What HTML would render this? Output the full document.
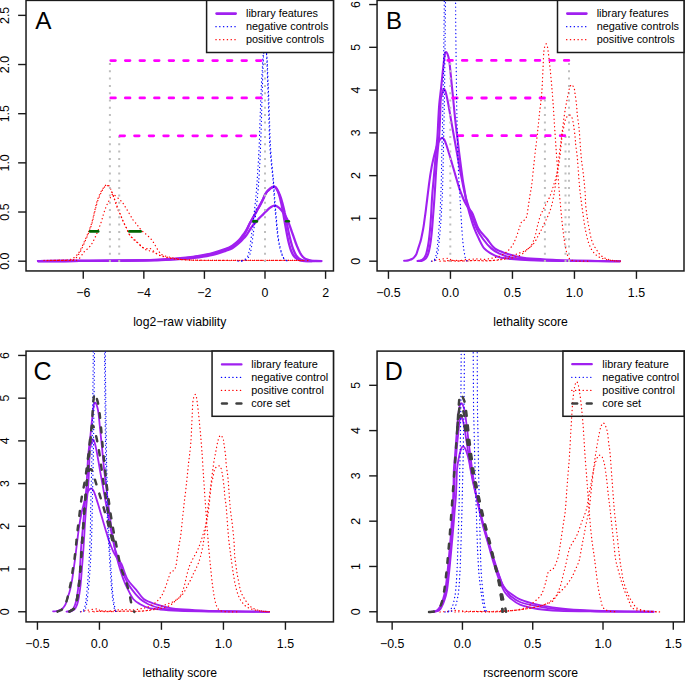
<!DOCTYPE html>
<html><head><meta charset="utf-8"><style>
html,body{margin:0;padding:0;background:#fff;}
svg{display:block;}
text{font-family:"Liberation Sans",sans-serif;fill:#000;}
</style></head><body>
<svg width="685" height="680" viewBox="0 0 685 680">
<rect width="685" height="680" fill="#fff"/>
<clipPath id="cA"><rect x="26.03" y="0.4" width="307.41999999999996" height="270.55"/></clipPath>
<rect x="26.03" y="0.4" width="307.41999999999996" height="270.55" fill="none" stroke="#1a1a1a" stroke-width="1.5"/>
<line x1="83.26" y1="270.95" x2="83.26" y2="278.85" stroke="#1a1a1a" stroke-width="1.4" stroke-linecap="butt"/>
<text x="83.26" y="297.30" font-size="12.4" text-anchor="middle">−6</text>
<line x1="143.84" y1="270.95" x2="143.84" y2="278.85" stroke="#1a1a1a" stroke-width="1.4" stroke-linecap="butt"/>
<text x="143.84" y="297.30" font-size="12.4" text-anchor="middle">−4</text>
<line x1="204.42" y1="270.95" x2="204.42" y2="278.85" stroke="#1a1a1a" stroke-width="1.4" stroke-linecap="butt"/>
<text x="204.42" y="297.30" font-size="12.4" text-anchor="middle">−2</text>
<line x1="265.00" y1="270.95" x2="265.00" y2="278.85" stroke="#1a1a1a" stroke-width="1.4" stroke-linecap="butt"/>
<text x="265.00" y="297.30" font-size="12.4" text-anchor="middle">0</text>
<line x1="325.58" y1="270.95" x2="325.58" y2="278.85" stroke="#1a1a1a" stroke-width="1.4" stroke-linecap="butt"/>
<text x="325.58" y="297.30" font-size="12.4" text-anchor="middle">2</text>
<line x1="18.13" y1="261.18" x2="26.03" y2="261.18" stroke="#1a1a1a" stroke-width="1.4" stroke-linecap="butt"/>
<text transform="translate(8.73 261.18) rotate(-90)" font-size="12.4" text-anchor="middle">0.0</text>
<line x1="18.13" y1="212.02" x2="26.03" y2="212.02" stroke="#1a1a1a" stroke-width="1.4" stroke-linecap="butt"/>
<text transform="translate(8.73 212.02) rotate(-90)" font-size="12.4" text-anchor="middle">0.5</text>
<line x1="18.13" y1="162.85" x2="26.03" y2="162.85" stroke="#1a1a1a" stroke-width="1.4" stroke-linecap="butt"/>
<text transform="translate(8.73 162.85) rotate(-90)" font-size="12.4" text-anchor="middle">1.0</text>
<line x1="18.13" y1="113.69" x2="26.03" y2="113.69" stroke="#1a1a1a" stroke-width="1.4" stroke-linecap="butt"/>
<text transform="translate(8.73 113.69) rotate(-90)" font-size="12.4" text-anchor="middle">1.5</text>
<line x1="18.13" y1="64.52" x2="26.03" y2="64.52" stroke="#1a1a1a" stroke-width="1.4" stroke-linecap="butt"/>
<text transform="translate(8.73 64.52) rotate(-90)" font-size="12.4" text-anchor="middle">2.0</text>
<line x1="18.13" y1="15.36" x2="26.03" y2="15.36" stroke="#1a1a1a" stroke-width="1.4" stroke-linecap="butt"/>
<text transform="translate(8.73 15.36) rotate(-90)" font-size="12.4" text-anchor="middle">2.5</text>
<text x="179.74" y="326.35" font-size="12.2" text-anchor="middle">log2−raw viability</text>
<text x="35.20" y="28.90" font-size="24.3">A</text>
<path d="M38.0 261.1 C45.0 261.1 66.3 261.0 80.0 260.9 C93.7 260.8 108.3 260.8 120.0 260.7 C131.7 260.6 141.7 260.5 150.0 260.3 C158.3 260.1 164.0 259.9 170.0 259.6 C176.0 259.3 181.2 259.0 186.0 258.6 C190.8 258.2 194.6 257.9 199.0 257.3 C203.4 256.7 208.2 256.0 212.6 254.9 C217.0 253.8 222.4 251.9 225.7 250.8 C229.0 249.7 230.1 249.5 232.3 248.2 C234.5 246.9 237.0 244.7 238.8 243.2 C240.6 241.7 241.9 240.1 243.0 239.0 C244.1 237.9 244.7 237.4 245.4 236.6 C246.1 235.8 246.6 235.1 247.3 234.0 C248.0 232.9 248.9 231.2 249.8 229.8 C250.7 228.4 251.8 226.6 252.8 225.4 C253.8 224.2 254.5 223.6 255.6 222.4 C256.6 221.2 257.8 219.7 259.1 218.3 C260.4 216.9 262.0 215.5 263.4 214.1 C264.8 212.7 266.3 211.0 267.6 209.8 C268.9 208.6 270.0 207.7 271.1 207.0 C272.2 206.3 273.2 205.7 274.3 205.6 C275.4 205.5 276.3 205.8 277.5 206.6 C278.7 207.4 280.2 208.7 281.5 210.3 C282.8 211.9 284.4 214.2 285.5 216.1 C286.6 218.0 287.4 219.5 288.3 221.8 C289.2 224.1 290.2 227.1 291.2 229.8 C292.1 232.5 293.1 235.1 294.0 237.8 C294.9 240.5 295.9 243.4 296.9 245.9 C297.9 248.4 299.0 250.8 300.0 252.7 C301.0 254.5 301.9 255.9 303.0 257.0 C304.1 258.1 305.2 258.8 306.5 259.4 C307.8 260.0 309.4 260.3 311.0 260.6 C312.6 260.9 314.2 260.9 316.0 261.0 C317.8 261.1 320.6 261.1 321.5 261.1" fill="none" stroke="#A020F0" stroke-width="2.3" stroke-linejoin="round" stroke-linecap="round" clip-path="url(#cA)"/>
<path d="M38.0 261.1 C45.0 261.1 66.3 261.0 80.0 260.9 C93.7 260.8 108.3 260.7 120.0 260.6 C131.7 260.5 141.7 260.4 150.0 260.2 C158.3 260.0 164.0 259.6 170.0 259.3 C176.0 259.0 181.2 258.6 186.0 258.1 C190.8 257.6 194.6 257.2 199.0 256.5 C203.4 255.8 208.2 255.0 212.6 253.9 C217.0 252.8 222.4 250.9 225.7 249.7 C229.0 248.5 230.1 248.1 232.3 246.8 C234.5 245.5 237.0 243.5 238.8 241.8 C240.6 240.1 241.9 238.0 243.0 236.5 C244.1 235.0 244.7 233.9 245.4 232.6 C246.2 231.3 246.8 229.9 247.5 228.5 C248.2 227.1 248.5 225.9 249.5 224.0 C250.5 222.1 252.2 219.2 253.5 216.9 C254.8 214.7 255.8 212.6 257.0 210.5 C258.2 208.4 259.4 206.2 260.5 204.2 C261.6 202.2 262.6 200.1 263.4 198.5 C264.2 196.9 264.4 195.8 265.1 194.6 C265.8 193.3 266.7 192.0 267.6 191.0 C268.5 190.0 269.6 189.1 270.4 188.4 C271.2 187.8 271.9 187.4 272.5 187.1 C273.1 186.8 273.6 186.3 274.3 186.6 C275.1 186.9 276.1 187.6 277.0 189.0 C277.9 190.4 278.9 192.7 279.8 195.0 C280.7 197.3 281.6 200.0 282.4 203.0 C283.2 206.0 284.1 209.6 284.8 213.0 C285.6 216.4 286.2 220.1 286.9 223.5 C287.6 226.9 288.2 230.4 288.9 233.5 C289.6 236.6 290.3 239.3 291.0 242.0 C291.7 244.7 292.5 247.4 293.3 249.5 C294.1 251.6 294.9 253.3 295.8 254.8 C296.7 256.3 297.7 257.4 298.8 258.3 C299.9 259.2 301.1 259.9 302.5 260.3 C303.9 260.8 305.4 260.9 307.5 261.0 C309.6 261.1 313.8 261.1 315.0 261.1" fill="none" stroke="#A020F0" stroke-width="2.3" stroke-linejoin="round" stroke-linecap="round" clip-path="url(#cA)"/>
<path d="M38.0 261.1 C45.0 261.1 66.3 261.0 80.0 260.9 C93.7 260.8 108.3 260.7 120.0 260.6 C131.7 260.5 141.7 260.4 150.0 260.1 C158.3 259.9 164.0 259.5 170.0 259.1 C176.0 258.7 181.2 258.2 186.0 257.7 C190.8 257.2 194.6 256.7 199.0 255.9 C203.4 255.1 208.2 254.2 212.6 253.0 C217.0 251.8 222.4 250.0 225.7 248.8 C229.0 247.6 230.1 247.0 232.3 245.6 C234.5 244.2 237.0 242.1 238.8 240.3 C240.6 238.5 241.9 236.4 243.0 235.0 C244.1 233.6 244.7 232.8 245.4 231.6 C246.2 230.4 246.8 229.3 247.5 228.0 C248.2 226.7 248.5 225.8 249.5 224.0 C250.5 222.2 252.2 219.2 253.5 216.9 C254.8 214.7 255.8 212.6 257.0 210.5 C258.2 208.4 259.4 206.2 260.5 204.2 C261.6 202.2 262.6 200.1 263.4 198.5 C264.2 196.9 264.4 195.8 265.1 194.6 C265.8 193.3 266.7 192.0 267.6 191.0 C268.5 190.0 269.6 189.1 270.4 188.4 C271.2 187.8 271.9 187.4 272.5 187.1 C273.1 186.8 273.7 186.4 274.3 186.6 C274.9 186.8 275.5 187.0 276.3 188.3 C277.1 189.6 278.2 192.1 279.0 194.5 C279.8 196.9 280.5 199.9 281.2 203.0 C281.9 206.1 282.6 209.6 283.2 213.0 C283.8 216.4 284.4 220.1 285.0 223.5 C285.6 226.9 286.2 230.2 286.8 233.5 C287.4 236.8 288.1 240.2 288.8 243.0 C289.5 245.8 290.2 248.4 291.0 250.5 C291.8 252.6 292.6 254.2 293.5 255.5 C294.4 256.8 295.4 257.7 296.5 258.5 C297.6 259.3 298.6 259.9 300.0 260.3 C301.4 260.7 303.0 260.9 305.0 261.0 C307.0 261.1 310.8 261.1 312.0 261.1" fill="none" stroke="#A020F0" stroke-width="2.3" stroke-linejoin="round" stroke-linecap="round" clip-path="url(#cA)"/>
<path d="M44.0 260.4 C45.8 260.4 51.5 260.4 55.0 260.3 C58.5 260.2 62.5 260.2 65.0 260.1 C67.5 260.0 68.6 259.9 70.0 259.6 C71.4 259.3 72.1 258.9 73.2 258.2 C74.3 257.5 75.4 256.7 76.5 255.5 C77.6 254.3 78.5 253.5 79.8 251.1 C81.1 248.7 83.0 244.4 84.5 241.2 C86.0 238.0 87.3 235.0 88.5 231.9 C89.7 228.8 90.8 226.1 91.8 222.6 C92.8 219.1 93.8 214.2 94.7 210.7 C95.6 207.2 96.2 204.2 97.0 201.5 C97.8 198.8 98.8 196.4 99.7 194.3 C100.6 192.2 101.6 190.6 102.5 189.2 C103.4 187.8 104.2 186.5 105.0 185.8 C105.8 185.1 106.6 184.7 107.3 184.8 C108.0 184.9 108.6 185.2 109.3 186.2 C110.0 187.1 110.6 188.8 111.3 190.5 C112.0 192.2 112.9 194.7 113.5 196.5 C114.1 198.3 114.3 199.2 115.0 201.3 C115.7 203.4 116.6 206.5 117.5 208.8 C118.4 211.1 119.7 212.9 120.6 215.0 C121.5 217.1 122.1 219.2 123.1 221.3 C124.0 223.4 125.3 225.5 126.3 227.5 C127.2 229.5 127.9 231.7 128.8 233.4 C129.7 235.1 130.9 236.4 131.9 237.5 C132.9 238.6 134.1 239.2 135.0 240.0 C135.9 240.8 136.2 241.3 137.5 242.5 C138.8 243.7 141.0 246.3 142.5 247.3 C144.0 248.3 145.1 248.4 146.3 248.6 C147.6 248.8 148.8 247.9 150.0 248.4 C151.2 248.9 152.3 250.2 153.8 251.3 C155.3 252.4 156.9 254.1 158.8 255.0 C160.7 255.9 162.7 256.1 165.0 256.6 C167.3 257.2 170.0 257.8 172.5 258.3 C175.0 258.8 176.2 259.1 180.0 259.4 C183.8 259.7 189.2 259.9 195.0 260.1 C200.8 260.3 207.5 260.3 215.0 260.4 C222.5 260.5 230.8 260.5 240.0 260.5 C249.2 260.5 260.0 260.4 270.0 260.4 C280.0 260.4 293.3 260.5 300.0 260.5 C306.7 260.5 308.3 260.5 310.0 260.5" fill="none" stroke="#FF0000" stroke-width="1.25" stroke-linejoin="round" stroke-linecap="round" stroke-dasharray="0.25 3.55" clip-path="url(#cA)"/>
<path d="M47.0 260.5 C49.2 260.5 55.8 260.5 60.0 260.4 C64.2 260.3 69.3 260.5 72.0 260.1 C74.7 259.7 74.6 259.4 76.0 258.0 C77.4 256.6 78.8 254.3 80.3 251.6 C81.8 248.9 83.4 245.0 84.8 241.8 C86.2 238.6 87.6 235.4 88.8 232.3 C90.0 229.2 91.0 226.7 92.0 223.2 C93.0 219.7 94.0 214.8 94.9 211.3 C95.8 207.9 96.4 205.2 97.2 202.5 C98.0 199.8 99.0 197.4 99.9 195.3 C100.8 193.2 101.8 191.2 102.7 189.7 C103.6 188.2 104.4 187.0 105.2 186.3 C106.0 185.6 106.9 185.5 107.6 185.7 C108.3 185.9 108.9 186.4 109.6 187.5 C110.3 188.6 111.0 190.2 111.8 192.0 C112.6 193.8 113.6 196.8 114.3 198.5 C115.0 200.2 115.3 200.5 116.0 202.3 C116.7 204.2 117.4 207.3 118.2 209.6 C119.0 211.9 120.1 213.9 121.0 216.0 C121.9 218.1 122.6 219.9 123.5 222.0 C124.4 224.1 125.6 226.4 126.6 228.4 C127.5 230.4 128.2 232.5 129.2 234.2 C130.2 235.9 131.4 237.3 132.5 238.5 C133.6 239.7 134.8 240.4 136.0 241.5 C137.2 242.6 138.5 243.7 140.0 245.0 C141.5 246.3 143.3 248.3 145.0 249.3 C146.7 250.3 148.3 250.4 150.0 251.0 C151.7 251.6 153.3 252.0 155.0 252.8 C156.7 253.6 158.0 254.8 160.0 255.6 C162.0 256.4 164.5 257.0 167.0 257.6 C169.5 258.2 171.2 258.6 175.0 259.0 C178.8 259.4 184.2 259.9 190.0 260.2 C195.8 260.4 201.7 260.5 210.0 260.5 C218.3 260.5 230.0 260.4 240.0 260.4 C250.0 260.4 260.0 260.5 270.0 260.5 C280.0 260.5 295.0 260.4 300.0 260.4" fill="none" stroke="#FF0000" stroke-width="1.25" stroke-linejoin="round" stroke-linecap="round" stroke-dasharray="0.25 3.55" clip-path="url(#cA)"/>
<path d="M50.0 260.5 C53.3 260.5 65.3 260.4 70.0 260.3 C74.7 260.2 75.7 261.0 78.0 259.6 C80.3 258.2 82.1 254.1 83.8 252.2 C85.5 250.3 86.7 249.8 88.0 248.4 C89.3 247.0 90.4 246.1 91.8 243.8 C93.2 241.5 94.9 238.0 96.4 234.5 C97.9 231.0 99.8 226.1 101.0 222.6 C102.2 219.1 102.8 216.1 103.7 213.4 C104.6 210.7 105.5 208.2 106.3 206.2 C107.1 204.2 108.1 202.7 108.8 201.2 C109.5 199.7 110.1 198.2 110.7 197.0 C111.3 195.8 112.0 194.6 112.5 194.2 C113.0 193.8 112.8 193.6 113.8 194.4 C114.8 195.2 117.3 197.5 118.8 198.8 C120.2 200.2 121.4 201.1 122.5 202.5 C123.6 203.9 124.4 205.6 125.6 207.5 C126.8 209.4 128.2 211.7 129.4 213.8 C130.7 215.9 131.9 218.3 133.1 220.0 C134.2 221.7 135.4 222.7 136.3 223.8 C137.2 225.0 137.8 225.7 138.8 226.9 C139.8 228.2 141.2 230.1 142.5 231.3 C143.8 232.6 144.8 233.1 146.3 234.4 C147.8 235.8 149.9 237.6 151.3 239.4 C152.8 241.2 153.8 243.0 155.0 245.0 C156.2 247.0 157.6 249.6 158.8 251.3 C160.1 253.0 160.8 254.1 162.5 255.0 C164.2 255.9 166.7 256.4 168.8 257.0 C170.9 257.6 172.3 257.8 175.0 258.3 C177.7 258.8 180.8 259.5 185.0 259.8 C189.2 260.1 192.5 260.2 200.0 260.3 C207.5 260.4 220.0 260.5 230.0 260.5 C240.0 260.5 250.0 260.4 260.0 260.4 C270.0 260.4 282.5 260.5 290.0 260.5 C297.5 260.5 302.5 260.4 305.0 260.4" fill="none" stroke="#FF0000" stroke-width="1.25" stroke-linejoin="round" stroke-linecap="round" stroke-dasharray="0.25 3.55" clip-path="url(#cA)"/>
<path d="M238.0 261.2 C238.6 261.1 240.4 261.3 241.7 260.8 C243.0 260.3 244.8 259.9 246.0 258.4 C247.2 256.9 248.0 256.4 249.0 252.0 C250.0 247.6 251.1 238.3 251.9 232.0 C252.8 225.7 253.4 220.7 254.1 214.0 C254.8 207.3 255.7 199.0 256.3 192.0 C256.9 185.0 257.2 179.8 257.7 172.0 C258.2 164.2 258.8 155.3 259.2 145.0 C259.6 134.7 260.0 120.8 260.4 110.0 C260.8 99.2 261.2 89.2 261.7 80.0 C262.2 70.8 262.7 61.0 263.2 55.0 C263.7 49.0 264.3 44.5 264.8 44.0 C265.3 43.5 265.9 46.0 266.4 52.0 C266.9 58.0 267.2 70.3 267.6 80.0 C268.0 89.7 268.2 99.2 268.6 110.0 C269.0 120.8 269.3 135.8 269.8 145.0 C270.3 154.2 271.0 159.2 271.5 165.0 C272.0 170.8 272.4 172.2 273.0 180.0 C273.6 187.8 274.4 202.1 275.3 212.0 C276.2 221.9 277.1 232.4 278.2 239.5 C279.3 246.6 280.8 251.2 281.8 254.5 C282.9 257.8 283.5 258.4 284.5 259.5 C285.5 260.6 287.4 260.9 288.0 261.2" fill="none" stroke="#0000FF" stroke-width="1.2" stroke-linejoin="round" stroke-linecap="round" stroke-dasharray="0.25 3.55" stroke-dashoffset="0.00" clip-path="url(#cA)"/>
<path d="M240.0 261.2 C240.6 261.1 242.0 261.3 243.3 260.8 C244.6 260.3 246.4 259.9 247.6 258.4 C248.8 256.9 249.6 256.4 250.6 252.0 C251.6 247.6 252.7 238.3 253.5 232.0 C254.3 225.7 255.0 220.7 255.7 214.0 C256.4 207.3 257.3 199.0 257.9 192.0 C258.5 185.0 258.9 179.8 259.3 172.0 C259.8 164.2 260.2 155.3 260.6 145.0 C261.0 134.7 261.4 120.8 261.7 110.0 C262.0 99.2 262.3 89.2 262.6 80.0 C262.9 70.8 263.2 60.7 263.6 55.0 C264.0 49.3 264.7 46.0 265.2 46.0 C265.7 46.0 266.3 49.3 266.8 55.0 C267.3 60.7 267.6 70.8 268.0 80.0 C268.4 89.2 268.8 99.2 269.2 110.0 C269.6 120.8 269.9 135.8 270.4 145.0 C270.9 154.2 271.5 159.2 272.0 165.0 C272.5 170.8 272.8 172.2 273.4 180.0 C274.0 187.8 274.9 202.1 275.8 212.0 C276.7 221.9 277.5 232.4 278.6 239.5 C279.7 246.6 281.1 251.2 282.2 254.5 C283.3 257.8 283.9 258.4 285.0 259.5 C286.1 260.6 288.3 260.9 289.0 261.2" fill="none" stroke="#0000FF" stroke-width="1.2" stroke-linejoin="round" stroke-linecap="round" stroke-dasharray="0.25 3.55" stroke-dashoffset="1.90" clip-path="url(#cA)"/>
<line x1="109.90" y1="262.10" x2="109.90" y2="60.60" stroke="#BEBEBE" stroke-width="2.0" stroke-linecap="butt" stroke-dasharray="2.0 5.3"/>
<line x1="119.20" y1="262.10" x2="119.20" y2="135.70" stroke="#BEBEBE" stroke-width="2.0" stroke-linecap="butt" stroke-dasharray="2.0 5.3"/>
<line x1="265.00" y1="262.10" x2="265.00" y2="60.60" stroke="#BEBEBE" stroke-width="2.0" stroke-linecap="butt" stroke-dasharray="2.0 5.3"/>
<line x1="110.80" y1="60.60" x2="261.10" y2="60.60" stroke="#FF00FF" stroke-width="2.8" stroke-linecap="round" stroke-dasharray="4.6 9.97"/>
<line x1="110.80" y1="97.90" x2="261.10" y2="97.90" stroke="#FF00FF" stroke-width="2.8" stroke-linecap="round" stroke-dasharray="4.6 9.97"/>
<line x1="120.00" y1="135.80" x2="256.20" y2="135.80" stroke="#FF00FF" stroke-width="2.8" stroke-linecap="round" stroke-dasharray="4.6 9.97"/>
<line x1="90.00" y1="231.40" x2="98.20" y2="231.40" stroke="#006400" stroke-width="2.6" stroke-linecap="round"/>
<line x1="129.30" y1="231.40" x2="140.70" y2="231.40" stroke="#006400" stroke-width="2.6" stroke-linecap="round"/>
<line x1="253.30" y1="221.40" x2="256.90" y2="221.40" stroke="#006400" stroke-width="2.6" stroke-linecap="round"/>
<line x1="286.10" y1="221.20" x2="288.80" y2="221.20" stroke="#006400" stroke-width="2.6" stroke-linecap="round"/>
<rect x="206.6" y="0.4" width="126.85" height="52.1" fill="#fff" stroke="#1a1a1a" stroke-width="1.5"/>
<line x1="216.60" y1="13.60" x2="235.70" y2="13.60" stroke="#A020F0" stroke-width="2.6" stroke-linecap="round"/>
<text x="246.00" y="17.25" font-size="10.9">library features</text>
<line x1="215.90" y1="26.65" x2="237.00" y2="26.65" stroke="#0000FF" stroke-width="1.25" stroke-linecap="round" stroke-dasharray="0.25 3.55"/>
<text x="246.00" y="30.30" font-size="10.9">negative controls</text>
<line x1="215.90" y1="39.70" x2="237.00" y2="39.70" stroke="#FF0000" stroke-width="1.25" stroke-linecap="round" stroke-dasharray="0.25 3.55"/>
<text x="246.00" y="43.35" font-size="10.9">positive controls</text>
<clipPath id="cB"><rect x="377.06" y="0.4" width="306.94" height="270.55"/></clipPath>
<rect x="377.06" y="0.4" width="306.94" height="270.55" fill="none" stroke="#1a1a1a" stroke-width="1.5"/>
<line x1="388.45" y1="270.95" x2="388.45" y2="278.85" stroke="#1a1a1a" stroke-width="1.4" stroke-linecap="butt"/>
<text x="388.45" y="297.30" font-size="12.4" text-anchor="middle">−0.5</text>
<line x1="450.45" y1="270.95" x2="450.45" y2="278.85" stroke="#1a1a1a" stroke-width="1.4" stroke-linecap="butt"/>
<text x="450.45" y="297.30" font-size="12.4" text-anchor="middle">0.0</text>
<line x1="512.45" y1="270.95" x2="512.45" y2="278.85" stroke="#1a1a1a" stroke-width="1.4" stroke-linecap="butt"/>
<text x="512.45" y="297.30" font-size="12.4" text-anchor="middle">0.5</text>
<line x1="574.45" y1="270.95" x2="574.45" y2="278.85" stroke="#1a1a1a" stroke-width="1.4" stroke-linecap="butt"/>
<text x="574.45" y="297.30" font-size="12.4" text-anchor="middle">1.0</text>
<line x1="636.45" y1="270.95" x2="636.45" y2="278.85" stroke="#1a1a1a" stroke-width="1.4" stroke-linecap="butt"/>
<text x="636.45" y="297.30" font-size="12.4" text-anchor="middle">1.5</text>
<line x1="369.16" y1="261.18" x2="377.06" y2="261.18" stroke="#1a1a1a" stroke-width="1.4" stroke-linecap="butt"/>
<text transform="translate(359.76 261.18) rotate(-90)" font-size="12.4" text-anchor="middle">0</text>
<line x1="369.16" y1="218.41" x2="377.06" y2="218.41" stroke="#1a1a1a" stroke-width="1.4" stroke-linecap="butt"/>
<text transform="translate(359.76 218.41) rotate(-90)" font-size="12.4" text-anchor="middle">1</text>
<line x1="369.16" y1="175.64" x2="377.06" y2="175.64" stroke="#1a1a1a" stroke-width="1.4" stroke-linecap="butt"/>
<text transform="translate(359.76 175.64) rotate(-90)" font-size="12.4" text-anchor="middle">2</text>
<line x1="369.16" y1="132.87" x2="377.06" y2="132.87" stroke="#1a1a1a" stroke-width="1.4" stroke-linecap="butt"/>
<text transform="translate(359.76 132.87) rotate(-90)" font-size="12.4" text-anchor="middle">3</text>
<line x1="369.16" y1="90.10" x2="377.06" y2="90.10" stroke="#1a1a1a" stroke-width="1.4" stroke-linecap="butt"/>
<text transform="translate(359.76 90.10) rotate(-90)" font-size="12.4" text-anchor="middle">4</text>
<line x1="369.16" y1="47.33" x2="377.06" y2="47.33" stroke="#1a1a1a" stroke-width="1.4" stroke-linecap="butt"/>
<text transform="translate(359.76 47.33) rotate(-90)" font-size="12.4" text-anchor="middle">5</text>
<line x1="369.16" y1="4.56" x2="377.06" y2="4.56" stroke="#1a1a1a" stroke-width="1.4" stroke-linecap="butt"/>
<text transform="translate(359.76 4.56) rotate(-90)" font-size="12.4" text-anchor="middle">6</text>
<text x="530.53" y="326.35" font-size="12.2" text-anchor="middle">lethality score</text>
<text x="386.00" y="29.00" font-size="24">B</text>
<path d="M404.1 260.8 C404.6 260.8 406.1 260.7 407.0 260.6 C407.9 260.5 408.7 260.3 409.5 260.0 C410.3 259.7 411.2 259.4 412.0 259.0 C412.8 258.6 413.4 258.3 414.1 257.4 C414.9 256.5 415.8 255.4 416.5 253.8 C417.2 252.2 417.8 249.6 418.4 247.8 C419.0 246.0 419.5 244.6 420.0 243.0 C420.5 241.4 420.8 240.6 421.3 238.2 C421.8 235.8 422.6 231.9 423.2 228.7 C423.8 225.5 424.2 222.3 424.6 219.1 C425.1 215.9 425.5 212.9 425.9 209.6 C426.3 206.2 426.7 202.9 427.2 199.0 C427.7 195.1 428.3 190.0 428.8 186.0 C429.3 182.0 429.8 178.6 430.3 175.0 C430.9 171.4 431.5 167.8 432.1 164.6 C432.8 161.3 433.5 158.4 434.2 155.5 C434.9 152.6 435.7 149.4 436.5 147.0 C437.3 144.6 438.1 142.5 439.0 141.0 C439.9 139.5 440.9 138.1 441.8 137.9 C442.7 137.7 443.4 138.4 444.2 139.6 C445.0 140.8 445.6 142.6 446.4 145.0 C447.2 147.4 448.2 150.8 449.2 154.0 C450.2 157.2 451.2 160.9 452.3 164.5 C453.4 168.1 454.5 172.0 455.5 175.5 C456.5 179.0 457.6 182.6 458.5 185.6 C459.4 188.6 460.2 190.9 461.2 193.5 C462.2 196.1 463.2 198.7 464.3 201.0 C465.4 203.3 466.6 205.4 468.0 207.5 C469.4 209.6 470.8 209.9 472.5 213.4 C474.2 216.9 476.0 224.2 478.4 228.5 C480.8 232.8 484.4 235.7 487.1 239.0 C489.8 242.3 491.5 246.0 494.7 248.4 C497.9 250.8 502.1 252.1 506.4 253.6 C510.7 255.1 515.6 256.3 520.4 257.2 C525.2 258.1 528.4 258.4 535.0 258.9 C541.6 259.4 549.2 259.8 560.0 260.2 C570.8 260.6 590.0 260.8 600.0 261.0 C610.0 261.2 616.7 261.2 620.0 261.2" fill="none" stroke="#A020F0" stroke-width="2.1" stroke-linejoin="round" stroke-linecap="round" clip-path="url(#cB)"/>
<path d="M419.5 261.0 C419.9 260.9 421.2 260.9 422.0 260.7 C422.8 260.4 423.8 260.0 424.5 259.5 C425.2 259.0 425.9 258.5 426.5 257.5 C427.1 256.5 427.7 255.4 428.3 253.5 C428.9 251.6 429.4 249.2 430.0 246.0 C430.6 242.8 431.1 238.8 431.6 234.0 C432.1 229.2 432.5 223.2 433.0 217.0 C433.5 210.8 434.1 203.0 434.5 197.0 C434.9 191.0 435.2 186.3 435.5 181.0 C435.8 175.7 436.1 170.2 436.5 165.0 C436.9 159.8 437.4 154.7 437.8 150.0 C438.2 145.3 438.7 142.0 439.1 137.0 C439.5 132.0 439.7 126.2 440.0 120.0 C440.3 113.8 440.4 104.3 440.7 100.0 C441.0 95.7 441.4 96.2 441.9 94.4 C442.4 92.6 443.1 89.8 443.6 89.1 C444.1 88.4 444.6 89.5 445.0 90.3 C445.4 91.1 445.7 92.1 446.2 94.0 C446.7 95.9 447.2 98.7 447.8 101.5 C448.4 104.3 448.9 107.6 449.5 110.9 C450.1 114.2 450.7 118.2 451.3 121.5 C451.9 124.8 452.4 127.8 453.0 131.0 C453.6 134.2 454.2 137.7 454.8 141.0 C455.4 144.3 456.0 147.7 456.6 151.0 C457.2 154.3 457.8 157.7 458.4 161.0 C459.0 164.3 459.6 167.8 460.2 171.0 C460.8 174.2 461.4 176.8 462.0 180.0 C462.6 183.2 463.2 186.7 464.0 190.0 C464.8 193.3 465.3 196.1 466.5 200.0 C467.7 203.9 469.3 208.7 471.0 213.4 C472.7 218.2 474.6 224.2 476.6 228.5 C478.6 232.8 480.6 235.7 483.0 239.0 C485.4 242.3 488.5 246.0 491.2 248.4 C493.9 250.8 496.3 252.1 499.4 253.6 C502.5 255.1 506.1 256.3 509.9 257.2 C513.7 258.1 516.1 258.4 522.0 258.9 C527.9 259.4 535.3 260.0 545.0 260.3 C554.7 260.6 567.5 260.8 580.0 260.9 C592.5 261.0 613.3 261.1 620.0 261.2" fill="none" stroke="#A020F0" stroke-width="2.1" stroke-linejoin="round" stroke-linecap="round" clip-path="url(#cB)"/>
<path d="M417.5 261.0 C417.9 260.9 419.2 260.9 420.0 260.7 C420.8 260.4 421.8 260.0 422.5 259.5 C423.2 259.0 423.9 258.5 424.5 257.5 C425.1 256.5 425.7 255.4 426.3 253.5 C426.9 251.6 427.4 249.2 428.0 246.0 C428.6 242.8 429.1 238.8 429.6 234.0 C430.1 229.2 430.6 223.2 431.0 217.0 C431.4 210.8 431.7 203.0 432.1 197.0 C432.5 191.0 433.0 186.3 433.5 181.0 C434.0 175.7 434.4 170.2 434.9 165.0 C435.3 159.8 435.8 154.7 436.2 150.0 C436.6 145.3 437.0 142.0 437.4 137.0 C437.8 132.0 438.0 125.5 438.3 120.0 C438.6 114.5 438.8 109.4 439.3 103.8 C439.8 98.2 440.7 92.1 441.3 86.2 C441.9 80.3 442.5 73.8 443.1 68.5 C443.7 63.2 444.3 57.1 444.8 54.4 C445.3 51.7 445.6 52.2 446.0 52.1 C446.4 52.0 446.9 52.8 447.3 53.6 C447.7 54.4 448.0 55.3 448.4 56.8 C448.8 58.3 449.1 59.7 449.5 62.6 C449.9 65.5 450.3 70.5 450.7 74.4 C451.1 78.3 451.5 82.3 451.9 86.2 C452.3 90.1 452.7 94.0 453.1 97.9 C453.5 101.8 453.8 105.8 454.2 109.7 C454.6 113.6 455.0 117.9 455.4 121.5 C455.8 125.1 456.2 128.2 456.6 131.5 C457.0 134.8 457.4 138.2 457.8 141.5 C458.2 144.8 458.6 148.2 459.0 151.5 C459.4 154.8 459.9 158.2 460.3 161.5 C460.7 164.8 461.2 168.2 461.6 171.5 C462.1 174.8 462.5 178.4 463.0 181.5 C463.5 184.6 464.0 186.9 464.5 190.0 C465.0 193.1 465.4 196.1 466.2 200.0 C467.0 203.9 468.1 208.7 469.5 213.4 C470.9 218.2 472.7 224.2 474.3 228.5 C475.9 232.8 477.4 235.7 479.0 239.0 C480.6 242.3 482.2 246.0 484.2 248.4 C486.2 250.8 488.7 252.1 491.2 253.6 C493.7 255.1 496.1 256.3 499.4 257.2 C502.7 258.1 505.9 258.4 511.0 258.9 C516.1 259.4 521.8 259.9 530.0 260.2 C538.2 260.5 548.3 260.8 560.0 260.9 C571.7 261.0 590.0 261.1 600.0 261.1 C610.0 261.2 616.7 261.2 620.0 261.2" fill="none" stroke="#A020F0" stroke-width="2.1" stroke-linejoin="round" stroke-linecap="round" clip-path="url(#cB)"/>
<line x1="450.30" y1="262.10" x2="450.30" y2="60.40" stroke="#BEBEBE" stroke-width="2.0" stroke-linecap="butt" stroke-dasharray="2.0 5.3"/>
<line x1="544.90" y1="262.10" x2="544.90" y2="98.00" stroke="#BEBEBE" stroke-width="2.0" stroke-linecap="butt" stroke-dasharray="2.0 5.3"/>
<line x1="565.50" y1="262.10" x2="565.50" y2="135.70" stroke="#BEBEBE" stroke-width="2.0" stroke-linecap="butt" stroke-dasharray="2.0 5.3"/>
<line x1="569.00" y1="262.10" x2="569.00" y2="60.40" stroke="#BEBEBE" stroke-width="2.0" stroke-linecap="butt" stroke-dasharray="2.0 5.3"/>
<line x1="447.80" y1="60.40" x2="568.80" y2="60.40" stroke="#FF00FF" stroke-width="2.8" stroke-linecap="round" stroke-dasharray="4.6 9.97"/>
<line x1="452.60" y1="98.00" x2="544.50" y2="98.00" stroke="#FF00FF" stroke-width="2.8" stroke-linecap="round" stroke-dasharray="4.6 9.97"/>
<line x1="458.20" y1="135.70" x2="564.80" y2="135.70" stroke="#FF00FF" stroke-width="2.8" stroke-linecap="round" stroke-dasharray="4.6 9.97"/>
<path d="M432.0 261.2 C432.7 261.0 434.6 260.4 436.1 260.1 C437.6 259.8 439.0 259.5 441.0 259.2 C443.0 258.9 446.1 258.2 447.9 258.4 C449.7 258.6 450.3 259.8 452.0 260.2 C453.7 260.6 455.6 261.0 458.0 260.9 C460.4 260.8 463.2 259.9 466.3 259.6 C469.4 259.3 473.9 258.9 476.8 258.9 C479.8 258.9 481.8 259.5 484.0 259.4 C486.2 259.3 488.3 258.8 490.0 258.5 C491.7 258.2 492.7 258.0 494.0 257.7 C495.3 257.4 496.5 257.3 498.0 256.8 C499.5 256.3 501.4 255.4 503.0 254.5 C504.6 253.6 506.1 252.3 507.4 251.2 C508.6 250.1 509.5 249.2 510.5 248.0 C511.5 246.8 512.4 245.7 513.2 244.2 C514.0 242.7 514.7 240.9 515.5 239.0 C516.3 237.1 517.1 234.7 517.9 232.5 C518.6 230.3 519.4 227.8 520.0 226.0 C520.6 224.2 520.9 222.9 521.5 222.0 C522.1 221.1 522.8 221.2 523.5 220.7 C524.2 220.2 524.9 219.9 525.5 219.0 C526.1 218.1 526.5 217.3 527.0 215.0 C527.5 212.7 528.0 208.3 528.5 205.0 C529.0 201.7 529.5 198.3 530.0 195.0 C530.5 191.7 531.1 189.5 531.7 185.0 C532.3 180.5 532.9 173.5 533.5 168.0 C534.1 162.5 534.7 156.7 535.2 152.0 C535.7 147.3 536.3 143.7 536.7 140.0 C537.1 136.3 537.4 133.3 537.8 130.0 C538.1 126.7 538.5 123.0 538.8 120.0 C539.1 117.0 539.3 114.7 539.6 112.0 C539.9 109.3 540.2 107.6 540.6 104.1 C541.0 100.6 541.6 95.3 541.9 90.9 C542.2 86.5 542.4 82.0 542.6 77.6 C542.8 73.2 543.0 68.8 543.2 64.4 C543.4 60.0 543.6 54.3 543.9 51.2 C544.2 48.1 544.6 47.2 545.0 46.0 C545.4 44.8 546.0 43.6 546.4 43.9 C546.8 44.1 547.1 44.5 547.6 47.5 C548.1 50.5 548.8 56.3 549.4 61.7 C550.0 67.1 550.6 73.5 551.2 80.0 C551.8 86.5 552.3 92.7 552.9 100.5 C553.5 108.3 554.0 118.2 554.6 127.0 C555.2 135.8 555.8 144.9 556.4 153.4 C557.0 161.9 557.6 170.3 558.2 178.0 C558.8 185.7 559.3 192.6 559.9 199.3 C560.5 206.0 561.1 212.1 561.7 218.0 C562.3 223.9 562.9 229.9 563.5 234.5 C564.1 239.1 564.6 242.3 565.2 245.5 C565.8 248.7 566.3 251.5 566.9 253.5 C567.5 255.5 568.1 256.5 568.7 257.5 C569.3 258.5 569.5 259.1 570.4 259.6 C571.3 260.2 572.4 260.5 574.0 260.8 C575.6 261.1 577.3 261.1 580.0 261.2 C582.7 261.3 588.3 261.2 590.0 261.2" fill="none" stroke="#FF0000" stroke-width="1.25" stroke-linejoin="round" stroke-linecap="round" stroke-dasharray="0.25 3.55" clip-path="url(#cB)"/>
<path d="M440.0 261.2 C441.3 261.1 445.3 260.6 448.0 260.6 C450.7 260.6 453.0 261.1 456.0 261.1 C459.0 261.1 462.3 260.9 466.0 260.8 C469.7 260.7 474.0 260.5 478.0 260.5 C482.0 260.5 486.3 260.7 490.0 260.6 C493.7 260.5 497.0 260.1 500.0 259.8 C503.0 259.5 505.5 259.0 508.0 258.6 C510.5 258.2 512.8 257.8 515.0 257.2 C517.2 256.6 519.3 255.8 521.0 254.8 C522.7 253.9 523.8 252.5 525.0 251.5 C526.2 250.5 527.2 249.5 528.2 248.6 C529.2 247.7 530.2 247.0 531.0 246.3 C531.8 245.6 532.3 245.5 533.1 244.4 C533.9 243.3 535.0 241.7 536.0 240.0 C537.0 238.3 537.9 236.2 538.8 234.5 C539.7 232.8 540.6 231.2 541.5 229.5 C542.4 227.8 543.2 225.8 544.0 224.0 C544.8 222.2 545.6 220.9 546.5 219.0 C547.4 217.1 548.6 214.7 549.4 212.5 C550.2 210.3 550.8 208.6 551.5 206.0 C552.2 203.4 552.9 200.0 553.5 197.0 C554.1 194.0 554.5 191.2 555.0 188.0 C555.5 184.8 555.9 181.6 556.4 178.1 C556.9 174.6 557.4 170.5 557.8 167.0 C558.2 163.5 558.6 160.5 559.0 157.0 C559.4 153.5 559.9 149.5 560.4 146.0 C560.9 142.5 561.3 139.2 561.7 135.8 C562.1 132.4 562.6 128.9 563.0 125.5 C563.4 122.1 563.8 118.7 564.3 115.5 C564.8 112.3 565.2 109.1 565.7 106.5 C566.2 103.9 566.5 102.4 567.0 100.0 C567.5 97.6 568.0 94.1 568.5 92.0 C569.0 89.9 569.3 88.7 569.8 87.5 C570.3 86.3 570.8 84.8 571.4 84.6 C572.0 84.4 572.7 85.6 573.2 86.3 C573.7 87.0 574.0 87.3 574.3 88.6 C574.6 89.9 574.7 91.5 575.1 94.1 C575.5 96.7 576.1 101.0 576.5 104.4 C576.9 107.8 576.9 111.3 577.3 114.7 C577.7 118.1 578.3 121.8 578.7 125.0 C579.1 128.2 579.2 130.6 579.5 133.8 C579.8 137.0 580.0 140.9 580.2 144.1 C580.4 147.3 580.6 149.9 580.9 152.9 C581.1 155.9 581.3 158.6 581.7 161.8 C582.1 165.0 582.7 168.6 583.1 172.1 C583.5 175.6 583.9 179.3 584.3 183.0 C584.6 186.7 585.0 190.3 585.2 194.0 C585.4 197.7 585.4 201.4 585.7 205.0 C586.0 208.6 586.6 212.3 587.0 215.5 C587.4 218.7 587.8 221.1 588.3 224.0 C588.8 226.9 589.5 230.4 590.0 233.0 C590.5 235.6 590.9 237.7 591.5 239.7 C592.1 241.7 592.7 243.2 593.5 244.8 C594.3 246.4 595.3 247.8 596.1 249.1 C596.9 250.4 597.8 251.6 598.5 252.6 C599.2 253.6 599.7 254.4 600.5 255.2 C601.3 256.0 602.5 256.7 603.5 257.3 C604.5 257.9 605.1 258.3 606.5 258.8 C607.9 259.3 610.2 260.0 612.0 260.3 C613.8 260.6 615.4 260.8 617.0 260.9 C618.6 261.0 620.8 261.1 621.5 261.2" fill="none" stroke="#FF0000" stroke-width="1.25" stroke-linejoin="round" stroke-linecap="round" stroke-dasharray="0.25 3.55" clip-path="url(#cB)"/>
<path d="M445.0 261.2 C446.7 261.1 451.7 260.3 455.0 260.3 C458.3 260.3 461.7 261.0 465.0 261.0 C468.3 261.0 471.7 260.4 475.0 260.4 C478.3 260.4 481.7 260.9 485.0 260.9 C488.3 260.9 492.0 260.5 495.0 260.2 C498.0 259.9 500.5 259.4 503.0 258.8 C505.5 258.2 508.1 257.1 510.0 256.5 C511.9 255.8 512.9 255.5 514.4 254.9 C515.9 254.3 517.5 253.8 519.0 253.2 C520.5 252.6 522.3 252.1 523.7 251.4 C525.1 250.7 526.3 250.0 527.5 249.2 C528.7 248.4 529.8 247.6 530.7 246.4 C531.6 245.2 532.2 243.9 533.0 242.0 C533.8 240.1 534.6 237.8 535.4 235.0 C536.2 232.2 536.9 228.1 537.7 225.0 C538.5 221.9 539.3 218.7 540.1 216.4 C540.9 214.1 541.8 212.6 542.5 211.0 C543.2 209.4 543.8 208.4 544.5 207.0 C545.2 205.6 546.2 204.1 547.0 202.5 C547.8 200.9 548.6 199.3 549.4 197.5 C550.2 195.7 550.9 193.8 551.7 191.5 C552.5 189.2 553.2 186.5 554.0 184.0 C554.8 181.5 555.5 179.2 556.2 176.5 C556.9 173.8 557.6 171.1 558.2 168.0 C558.8 164.9 559.2 161.7 559.7 158.0 C560.2 154.3 560.6 150.0 561.0 146.0 C561.4 142.0 561.8 137.2 562.3 134.0 C562.8 130.8 563.5 129.0 564.0 126.5 C564.5 124.0 565.0 120.8 565.5 119.1 C566.0 117.4 566.7 117.2 567.2 116.6 C567.8 116.0 568.3 115.6 568.8 115.4 C569.3 115.2 569.9 115.1 570.4 115.3 C570.9 115.5 571.2 115.7 571.6 116.5 C572.0 117.3 572.3 118.6 572.6 120.0 C572.9 121.4 573.2 122.2 573.6 125.0 C574.0 127.8 574.7 133.4 575.1 136.8 C575.5 140.2 575.4 142.2 575.8 145.6 C576.2 149.0 576.9 153.2 577.3 157.4 C577.7 161.6 578.0 166.6 578.3 171.0 C578.6 175.4 579.0 180.2 579.3 184.0 C579.6 187.8 579.9 190.7 580.3 194.0 C580.7 197.3 581.2 200.8 581.6 204.0 C582.0 207.2 582.5 210.3 582.9 213.4 C583.3 216.5 583.8 219.7 584.2 222.5 C584.6 225.3 585.1 227.7 585.5 230.0 C585.9 232.3 586.3 234.4 586.8 236.3 C587.2 238.2 587.7 239.9 588.2 241.6 C588.7 243.3 589.4 245.1 590.0 246.5 C590.6 247.9 591.2 249.0 592.0 250.2 C592.8 251.4 593.7 252.6 594.5 253.5 C595.3 254.4 596.1 255.0 597.0 255.7 C597.9 256.4 598.7 256.9 600.0 257.5 C601.3 258.1 603.0 258.7 605.0 259.2 C607.0 259.7 610.0 260.2 612.0 260.5 C614.0 260.8 615.6 260.9 617.0 261.0 C618.4 261.1 619.9 261.2 620.5 261.2" fill="none" stroke="#FF0000" stroke-width="1.25" stroke-linejoin="round" stroke-linecap="round" stroke-dasharray="0.25 3.55" clip-path="url(#cB)"/>
<path d="M431.5 261.2 C431.8 261.1 432.4 261.2 433.0 260.8 C433.6 260.4 434.4 260.1 435.0 258.5 C435.6 256.9 436.2 255.3 436.8 251.0 C437.4 246.7 438.1 239.0 438.6 232.6 C439.1 226.2 439.6 220.7 440.0 212.8 C440.4 204.9 440.9 195.5 441.2 185.0 C441.5 174.5 441.6 164.2 441.9 150.0 C442.2 135.8 442.7 116.7 443.0 100.0 C443.3 83.3 443.6 66.7 443.8 50.0 C444.0 33.3 444.1 18.3 444.3 0.0 C444.5 -18.3 443.9 -36.7 444.8 -60.0 C445.8 -83.3 448.2 -140.0 450.0 -140.0 C451.8 -140.0 454.4 -83.3 455.3 -60.0 C456.2 -36.7 455.5 -18.3 455.6 0.0 C455.7 18.3 455.8 33.3 456.0 50.0 C456.2 66.7 456.4 85.0 456.6 100.0 C456.9 115.0 457.2 129.2 457.5 140.0 C457.8 150.8 457.9 157.5 458.2 165.0 C458.5 172.5 458.8 178.3 459.2 185.0 C459.6 191.7 460.0 198.3 460.4 205.0 C460.8 211.7 461.2 218.7 461.6 225.0 C462.0 231.3 462.5 238.3 463.0 243.0 C463.5 247.7 463.9 250.2 464.4 253.0 C464.8 255.8 465.2 258.1 465.7 259.5 C466.2 260.9 467.2 260.9 467.5 261.2" fill="none" stroke="#0000FF" stroke-width="1.2" stroke-linejoin="round" stroke-linecap="round" stroke-dasharray="0.25 3.55" stroke-dashoffset="0.00" clip-path="url(#cB)"/>
<path d="M433.0 261.2 C433.2 261.1 433.9 261.2 434.5 260.8 C435.1 260.4 435.7 260.1 436.3 258.5 C436.9 256.9 437.4 255.3 438.0 251.0 C438.6 246.7 439.4 239.0 440.0 232.6 C440.6 226.2 440.9 220.7 441.4 212.8 C441.8 204.9 442.4 195.5 442.7 185.0 C443.0 174.5 443.1 164.2 443.4 150.0 C443.7 135.8 444.1 116.7 444.4 100.0 C444.7 83.3 444.8 66.7 445.0 50.0 C445.2 33.3 445.2 13.3 445.5 0.0 C445.8 -13.3 446.3 -25.0 446.5 -30.0" fill="none" stroke="#0000FF" stroke-width="1.2" stroke-linejoin="round" stroke-linecap="round" stroke-dasharray="0.25 3.55" stroke-dashoffset="1.90" clip-path="url(#cB)"/>
<rect x="557.5" y="0.4" width="126.5" height="52.1" fill="#fff" stroke="#1a1a1a" stroke-width="1.5"/>
<line x1="567.30" y1="13.60" x2="586.40" y2="13.60" stroke="#A020F0" stroke-width="2.6" stroke-linecap="round"/>
<text x="596.70" y="17.25" font-size="10.9">library features</text>
<line x1="566.60" y1="26.65" x2="587.70" y2="26.65" stroke="#0000FF" stroke-width="1.25" stroke-linecap="round" stroke-dasharray="0.25 3.55"/>
<text x="596.70" y="30.30" font-size="10.9">negative controls</text>
<line x1="566.60" y1="39.70" x2="587.70" y2="39.70" stroke="#FF0000" stroke-width="1.25" stroke-linecap="round" stroke-dasharray="0.25 3.55"/>
<text x="596.70" y="43.35" font-size="10.9">positive controls</text>
<clipPath id="cC"><rect x="26.03" y="351.1" width="307.41999999999996" height="270.79999999999995"/></clipPath>
<rect x="26.03" y="351.1" width="307.41999999999996" height="270.79999999999995" fill="none" stroke="#1a1a1a" stroke-width="1.5"/>
<line x1="37.44" y1="621.90" x2="37.44" y2="629.80" stroke="#1a1a1a" stroke-width="1.4" stroke-linecap="butt"/>
<text x="37.44" y="648.25" font-size="12.4" text-anchor="middle">−0.5</text>
<line x1="99.44" y1="621.90" x2="99.44" y2="629.80" stroke="#1a1a1a" stroke-width="1.4" stroke-linecap="butt"/>
<text x="99.44" y="648.25" font-size="12.4" text-anchor="middle">0.0</text>
<line x1="161.44" y1="621.90" x2="161.44" y2="629.80" stroke="#1a1a1a" stroke-width="1.4" stroke-linecap="butt"/>
<text x="161.44" y="648.25" font-size="12.4" text-anchor="middle">0.5</text>
<line x1="223.44" y1="621.90" x2="223.44" y2="629.80" stroke="#1a1a1a" stroke-width="1.4" stroke-linecap="butt"/>
<text x="223.44" y="648.25" font-size="12.4" text-anchor="middle">1.0</text>
<line x1="285.44" y1="621.90" x2="285.44" y2="629.80" stroke="#1a1a1a" stroke-width="1.4" stroke-linecap="butt"/>
<text x="285.44" y="648.25" font-size="12.4" text-anchor="middle">1.5</text>
<line x1="18.13" y1="611.76" x2="26.03" y2="611.76" stroke="#1a1a1a" stroke-width="1.4" stroke-linecap="butt"/>
<text transform="translate(8.73 611.76) rotate(-90)" font-size="12.4" text-anchor="middle">0</text>
<line x1="18.13" y1="569.04" x2="26.03" y2="569.04" stroke="#1a1a1a" stroke-width="1.4" stroke-linecap="butt"/>
<text transform="translate(8.73 569.04) rotate(-90)" font-size="12.4" text-anchor="middle">1</text>
<line x1="18.13" y1="526.32" x2="26.03" y2="526.32" stroke="#1a1a1a" stroke-width="1.4" stroke-linecap="butt"/>
<text transform="translate(8.73 526.32) rotate(-90)" font-size="12.4" text-anchor="middle">2</text>
<line x1="18.13" y1="483.60" x2="26.03" y2="483.60" stroke="#1a1a1a" stroke-width="1.4" stroke-linecap="butt"/>
<text transform="translate(8.73 483.60) rotate(-90)" font-size="12.4" text-anchor="middle">3</text>
<line x1="18.13" y1="440.88" x2="26.03" y2="440.88" stroke="#1a1a1a" stroke-width="1.4" stroke-linecap="butt"/>
<text transform="translate(8.73 440.88) rotate(-90)" font-size="12.4" text-anchor="middle">4</text>
<line x1="18.13" y1="398.16" x2="26.03" y2="398.16" stroke="#1a1a1a" stroke-width="1.4" stroke-linecap="butt"/>
<text transform="translate(8.73 398.16) rotate(-90)" font-size="12.4" text-anchor="middle">5</text>
<line x1="18.13" y1="355.44" x2="26.03" y2="355.44" stroke="#1a1a1a" stroke-width="1.4" stroke-linecap="butt"/>
<text transform="translate(8.73 355.44) rotate(-90)" font-size="12.4" text-anchor="middle">6</text>
<text x="179.74" y="677.30" font-size="12.2" text-anchor="middle">lethality score</text>
<text x="33.50" y="380.20" font-size="25">C</text>
<path d="M53.1 611.4 C53.6 611.3 55.1 611.3 56.0 611.2 C56.9 611.0 57.7 610.8 58.5 610.6 C59.3 610.3 60.2 610.0 61.0 609.6 C61.8 609.1 62.3 608.8 63.1 608.0 C63.8 607.1 64.8 606.0 65.5 604.4 C66.2 602.8 66.8 600.2 67.4 598.4 C68.0 596.6 68.5 595.2 69.0 593.6 C69.5 592.0 69.8 591.2 70.3 588.8 C70.8 586.4 71.6 582.5 72.2 579.3 C72.7 576.1 73.1 572.9 73.6 569.7 C74.0 566.5 74.5 563.5 74.9 560.2 C75.3 556.8 75.7 553.5 76.2 549.6 C76.7 545.6 77.3 540.6 77.8 536.6 C78.3 532.6 78.7 529.1 79.3 525.6 C79.8 522.0 80.4 518.4 81.1 515.2 C81.7 511.9 82.5 509.0 83.2 506.1 C83.9 503.1 84.7 500.0 85.5 497.6 C86.3 495.2 87.1 493.1 88.0 491.6 C88.9 490.1 89.9 488.7 90.8 488.5 C91.7 488.2 92.4 489.0 93.2 490.2 C94.0 491.4 94.6 493.2 95.4 495.6 C96.2 498.0 97.2 501.3 98.2 504.6 C99.2 507.8 100.2 511.5 101.3 515.1 C102.3 518.7 103.5 522.6 104.5 526.1 C105.5 529.6 106.5 533.2 107.5 536.2 C108.4 539.2 109.2 541.5 110.2 544.1 C111.2 546.6 112.2 549.2 113.3 551.6 C114.4 553.9 115.6 556.0 117.0 558.1 C118.4 560.1 119.8 560.5 121.5 564.0 C123.2 567.5 125.0 574.8 127.4 579.1 C129.8 583.3 133.4 586.3 136.1 589.6 C138.8 592.9 140.5 596.5 143.7 599.0 C146.9 601.4 151.1 602.7 155.4 604.2 C159.7 605.6 164.6 606.9 169.4 607.8 C174.2 608.7 177.4 609.0 184.0 609.5 C190.6 610.0 198.2 610.4 209.0 610.8 C219.8 611.1 239.0 611.4 249.0 611.6 C259.0 611.7 265.7 611.7 269.0 611.8" fill="none" stroke="#A020F0" stroke-width="1.8" stroke-linejoin="round" stroke-linecap="round" clip-path="url(#cC)"/>
<path d="M68.5 611.6 C68.9 611.5 70.2 611.5 71.0 611.3 C71.8 611.0 72.7 610.6 73.5 610.1 C74.2 609.5 74.9 609.1 75.5 608.1 C76.1 607.1 76.7 606.0 77.3 604.1 C77.9 602.2 78.4 599.8 79.0 596.6 C79.5 593.3 80.1 589.4 80.6 584.6 C81.1 579.7 81.5 573.7 82.0 567.6 C82.5 561.4 83.1 553.6 83.5 547.6 C83.9 541.6 84.2 536.9 84.5 531.6 C84.8 526.2 85.1 520.7 85.5 515.6 C85.9 510.4 86.4 505.2 86.8 500.6 C87.2 495.9 87.7 492.6 88.1 487.6 C88.5 482.6 88.7 476.7 89.0 470.6 C89.3 464.4 89.4 454.8 89.7 450.6 C90.0 446.3 90.4 446.8 90.9 445.0 C91.4 443.2 92.1 440.4 92.6 439.7 C93.1 439.0 93.6 440.1 94.0 440.9 C94.4 441.7 94.7 442.7 95.2 444.6 C95.7 446.4 96.2 449.3 96.8 452.1 C97.3 454.9 97.9 458.1 98.5 461.5 C99.1 464.8 99.7 468.7 100.3 472.1 C100.9 475.4 101.4 478.3 102.0 481.6 C102.6 484.8 103.2 488.2 103.8 491.6 C104.4 494.9 105.0 498.2 105.6 501.6 C106.2 504.9 106.8 508.2 107.4 511.6 C108.0 514.9 108.6 518.4 109.2 521.6 C109.8 524.7 110.4 527.4 111.0 530.6 C111.6 533.7 112.2 537.2 113.0 540.6 C113.7 543.9 114.3 546.7 115.5 550.6 C116.7 554.5 118.3 559.2 120.0 564.0 C121.7 568.7 123.6 574.8 125.6 579.1 C127.6 583.3 129.6 586.3 132.0 589.6 C134.4 592.9 137.5 596.5 140.2 599.0 C142.9 601.4 145.3 602.7 148.4 604.2 C151.5 605.6 155.1 606.9 158.9 607.8 C162.7 608.7 165.1 609.0 171.0 609.5 C176.8 610.0 184.3 610.5 194.0 610.9 C203.7 611.2 216.5 611.3 229.0 611.5 C241.5 611.6 262.3 611.7 269.0 611.8" fill="none" stroke="#A020F0" stroke-width="1.8" stroke-linejoin="round" stroke-linecap="round" clip-path="url(#cC)"/>
<path d="M66.5 611.6 C66.9 611.5 68.2 611.5 69.0 611.3 C69.8 611.0 70.7 610.6 71.5 610.1 C72.2 609.5 72.9 609.1 73.5 608.1 C74.1 607.1 74.7 606.0 75.3 604.1 C75.9 602.2 76.4 599.8 77.0 596.6 C77.5 593.3 78.1 589.4 78.6 584.6 C79.1 579.7 79.6 573.7 80.0 567.6 C80.4 561.4 80.7 553.6 81.1 547.6 C81.5 541.6 82.0 536.9 82.5 531.6 C83.0 526.2 83.4 520.7 83.9 515.6 C84.3 510.4 84.8 505.2 85.2 500.6 C85.6 495.9 86.0 492.6 86.4 487.6 C86.7 482.6 87.0 476.1 87.3 470.6 C87.6 465.0 87.8 460.0 88.3 454.4 C88.8 448.7 89.7 442.7 90.3 436.8 C90.9 430.9 91.5 424.4 92.1 419.1 C92.7 413.8 93.3 407.7 93.8 405.0 C94.3 402.2 94.6 402.8 95.0 402.7 C95.4 402.5 95.9 403.4 96.3 404.2 C96.7 405.0 97.0 405.9 97.4 407.4 C97.8 408.9 98.1 410.2 98.5 413.2 C98.9 416.1 99.3 421.0 99.7 425.0 C100.1 428.9 100.5 432.9 100.9 436.8 C101.3 440.7 101.7 444.6 102.1 448.5 C102.5 452.4 102.8 456.3 103.2 460.3 C103.6 464.2 104.0 468.4 104.4 472.1 C104.8 475.7 105.2 478.7 105.6 482.1 C106.0 485.4 106.4 488.7 106.8 492.1 C107.2 495.4 107.6 498.7 108.0 502.1 C108.4 505.4 108.9 508.7 109.3 512.1 C109.7 515.4 110.1 518.7 110.6 522.1 C111.0 525.4 111.5 529.0 112.0 532.1 C112.5 535.2 113.0 537.5 113.5 540.6 C114.0 543.7 114.4 546.7 115.2 550.6 C116.0 554.5 117.1 559.2 118.5 564.0 C119.8 568.7 121.7 574.8 123.3 579.1 C124.9 583.3 126.3 586.3 128.0 589.6 C129.6 592.9 131.2 596.5 133.2 599.0 C135.2 601.4 137.7 602.7 140.2 604.2 C142.7 605.6 145.1 606.9 148.4 607.8 C151.7 608.7 154.9 609.0 160.0 609.5 C165.1 610.0 170.8 610.4 179.0 610.8 C187.2 611.1 197.3 611.3 209.0 611.5 C220.7 611.6 239.0 611.6 249.0 611.7 C259.0 611.7 265.7 611.8 269.0 611.8" fill="none" stroke="#A020F0" stroke-width="1.8" stroke-linejoin="round" stroke-linecap="round" clip-path="url(#cC)"/>
<path d="M81.0 611.8 C81.7 611.6 83.6 611.0 85.1 610.7 C86.6 610.3 88.0 610.1 90.0 609.8 C92.0 609.5 95.1 608.8 96.9 609.0 C98.7 609.1 99.3 610.4 101.0 610.8 C102.7 611.2 104.6 611.6 107.0 611.5 C109.4 611.4 112.2 610.5 115.3 610.2 C118.4 609.8 122.8 609.5 125.8 609.5 C128.7 609.4 130.8 610.0 133.0 610.0 C135.2 609.9 137.3 609.4 139.0 609.1 C140.7 608.8 141.7 608.6 143.0 608.3 C144.3 608.0 145.5 607.9 147.0 607.4 C148.5 606.8 150.4 606.0 152.0 605.1 C153.6 604.1 155.1 602.9 156.4 601.8 C157.6 600.7 158.5 599.7 159.5 598.6 C160.5 597.4 161.4 596.3 162.2 594.8 C163.0 593.3 163.7 591.5 164.5 589.6 C165.3 587.6 166.1 585.2 166.9 583.1 C167.6 580.9 168.4 578.3 169.0 576.6 C169.6 574.8 169.9 573.5 170.5 572.6 C171.1 571.7 171.8 571.8 172.5 571.3 C173.2 570.8 173.9 570.5 174.5 569.6 C175.1 568.6 175.5 567.9 176.0 565.6 C176.5 563.2 177.0 558.9 177.5 555.6 C178.0 552.2 178.5 548.9 179.0 545.6 C179.5 542.2 180.1 540.1 180.7 535.6 C181.3 531.1 181.9 524.1 182.5 518.6 C183.1 513.1 183.7 507.2 184.2 502.6 C184.7 497.9 185.3 494.2 185.7 490.6 C186.1 486.9 186.4 483.9 186.8 480.6 C187.1 477.2 187.5 473.6 187.8 470.6 C188.1 467.6 188.3 465.2 188.6 462.6 C188.9 459.9 189.2 458.2 189.6 454.7 C190.0 451.2 190.6 445.9 190.9 441.5 C191.2 437.1 191.4 432.6 191.6 428.2 C191.8 423.8 192.0 419.4 192.2 415.0 C192.4 410.6 192.6 404.8 192.9 401.8 C193.2 398.7 193.6 397.8 194.0 396.6 C194.4 395.4 195.0 394.2 195.4 394.5 C195.8 394.7 196.1 395.1 196.6 398.1 C197.1 401.0 197.8 406.9 198.4 412.3 C199.0 417.7 199.6 424.1 200.2 430.6 C200.8 437.0 201.3 443.2 201.9 451.1 C202.5 458.9 203.0 468.8 203.6 477.6 C204.2 486.4 204.8 495.5 205.4 504.0 C206.0 512.5 206.6 520.9 207.2 528.6 C207.8 536.2 208.3 543.2 208.9 549.9 C209.5 556.5 210.1 562.7 210.7 568.6 C211.3 574.4 211.9 580.5 212.5 585.1 C213.1 589.7 213.6 592.9 214.2 596.1 C214.8 599.2 215.3 602.1 215.9 604.1 C216.5 606.1 217.1 607.1 217.7 608.1 C218.3 609.1 218.5 609.6 219.4 610.2 C220.3 610.7 221.4 611.1 223.0 611.4 C224.6 611.6 226.3 611.7 229.0 611.8 C231.7 611.8 237.3 611.8 239.0 611.8" fill="none" stroke="#FF0000" stroke-width="1.25" stroke-linejoin="round" stroke-linecap="round" stroke-dasharray="0.25 3.55" clip-path="url(#cC)"/>
<path d="M89.0 611.8 C90.3 611.7 94.3 611.2 97.0 611.2 C99.7 611.2 102.0 611.6 105.0 611.7 C108.0 611.7 111.3 611.5 115.0 611.4 C118.7 611.3 123.0 611.1 127.0 611.1 C131.0 611.0 135.3 611.3 139.0 611.2 C142.7 611.1 146.0 610.7 149.0 610.4 C152.0 610.0 154.5 609.6 157.0 609.2 C159.5 608.7 161.8 608.4 164.0 607.8 C166.2 607.1 168.3 606.3 170.0 605.4 C171.7 604.4 172.8 603.1 174.0 602.1 C175.2 601.0 176.2 600.0 177.2 599.2 C178.2 598.3 179.2 597.6 180.0 596.9 C180.8 596.2 181.3 596.0 182.1 595.0 C182.9 593.9 184.0 592.2 185.0 590.6 C185.9 588.9 186.9 586.8 187.8 585.1 C188.7 583.3 189.6 581.8 190.5 580.1 C191.4 578.3 192.2 576.3 193.0 574.6 C193.8 572.8 194.6 571.5 195.5 569.6 C196.4 567.7 197.6 565.2 198.4 563.1 C199.2 560.9 199.8 559.2 200.5 556.6 C201.2 554.0 201.9 550.6 202.5 547.6 C203.1 544.6 203.5 541.7 204.0 538.6 C204.5 535.4 204.9 532.2 205.4 528.7 C205.9 525.2 206.4 521.1 206.8 517.6 C207.2 514.1 207.6 511.1 208.0 507.6 C208.4 504.1 208.9 500.1 209.4 496.6 C209.8 493.0 210.3 489.8 210.7 486.4 C211.1 483.0 211.6 479.5 212.0 476.1 C212.4 472.7 212.8 469.2 213.3 466.1 C213.7 462.9 214.2 459.7 214.7 457.1 C215.1 454.5 215.5 453.0 216.0 450.6 C216.5 448.2 217.0 444.7 217.5 442.6 C218.0 440.5 218.3 439.3 218.8 438.1 C219.3 436.8 219.8 435.4 220.4 435.2 C221.0 435.0 221.7 436.2 222.2 436.9 C222.7 437.5 223.0 437.9 223.3 439.2 C223.6 440.5 223.7 442.0 224.1 444.7 C224.5 447.3 225.1 451.5 225.5 455.0 C225.9 458.4 225.9 461.8 226.3 465.3 C226.7 468.7 227.3 472.4 227.7 475.6 C228.1 478.8 228.2 481.2 228.5 484.4 C228.7 487.6 229.0 491.5 229.2 494.7 C229.4 497.9 229.6 500.5 229.9 503.5 C230.1 506.4 230.3 509.2 230.7 512.4 C231.1 515.6 231.7 519.1 232.1 522.7 C232.5 526.2 232.9 529.9 233.3 533.6 C233.6 537.2 234.0 540.9 234.2 544.6 C234.4 548.2 234.4 552.0 234.7 555.6 C235.0 559.2 235.6 562.9 236.0 566.1 C236.4 569.2 236.8 571.7 237.3 574.6 C237.8 577.5 238.5 581.0 239.0 583.6 C239.5 586.2 239.9 588.3 240.5 590.3 C241.1 592.2 241.7 593.8 242.5 595.4 C243.3 596.9 244.3 598.4 245.1 599.7 C245.9 601.0 246.8 602.2 247.5 603.2 C248.2 604.2 248.7 605.0 249.5 605.8 C250.3 606.6 251.5 607.3 252.5 607.9 C253.5 608.5 254.1 608.9 255.5 609.4 C256.9 609.9 259.2 610.5 261.0 610.9 C262.7 611.2 264.4 611.3 266.0 611.5 C267.6 611.6 269.7 611.7 270.5 611.8" fill="none" stroke="#FF0000" stroke-width="1.25" stroke-linejoin="round" stroke-linecap="round" stroke-dasharray="0.25 3.55" clip-path="url(#cC)"/>
<path d="M94.0 611.8 C95.7 611.6 100.7 610.9 104.0 610.9 C107.3 610.8 110.7 611.6 114.0 611.6 C117.3 611.6 120.7 611.0 124.0 611.0 C127.3 611.0 130.7 611.5 134.0 611.5 C137.3 611.4 141.0 611.1 144.0 610.8 C147.0 610.4 149.5 610.0 152.0 609.4 C154.5 608.8 157.1 607.7 159.0 607.1 C160.9 606.4 161.9 606.0 163.4 605.5 C164.9 604.9 166.4 604.4 168.0 603.8 C169.5 603.2 171.3 602.6 172.7 602.0 C174.1 601.3 175.3 600.6 176.5 599.8 C177.7 598.9 178.8 598.2 179.7 597.0 C180.6 595.8 181.2 594.5 182.0 592.6 C182.8 590.7 183.6 588.4 184.4 585.6 C185.2 582.7 185.9 578.7 186.7 575.6 C187.5 572.5 188.3 569.3 189.1 567.0 C189.9 564.6 190.8 563.1 191.5 561.6 C192.2 560.0 192.7 559.0 193.5 557.6 C194.2 556.2 195.2 554.7 196.0 553.1 C196.8 551.5 197.6 549.9 198.4 548.1 C199.2 546.2 199.9 544.3 200.7 542.1 C201.5 539.8 202.2 537.1 203.0 534.6 C203.7 532.1 204.5 529.7 205.2 527.1 C205.9 524.4 206.6 521.7 207.2 518.6 C207.8 515.5 208.2 512.2 208.7 508.6 C209.2 504.9 209.6 500.6 210.0 496.6 C210.4 492.6 210.8 487.8 211.3 484.6 C211.8 481.3 212.5 479.6 213.0 477.1 C213.5 474.6 214.0 471.3 214.5 469.7 C215.0 468.0 215.6 467.8 216.2 467.2 C216.7 466.6 217.3 466.2 217.8 466.0 C218.3 465.8 218.9 465.7 219.4 465.9 C219.9 466.1 220.2 466.3 220.6 467.1 C221.0 467.9 221.3 469.2 221.6 470.6 C221.9 472.0 222.2 472.8 222.6 475.6 C223.0 478.4 223.7 483.9 224.1 487.4 C224.5 490.8 224.4 492.7 224.8 496.2 C225.2 499.6 225.9 503.7 226.3 508.0 C226.7 512.2 227.0 517.1 227.3 521.6 C227.6 526.0 228.0 530.7 228.3 534.6 C228.6 538.4 228.9 541.2 229.3 544.6 C229.7 547.9 230.2 551.3 230.6 554.6 C231.0 557.8 231.5 560.9 231.9 564.0 C232.3 567.1 232.8 570.3 233.2 573.1 C233.6 575.8 234.1 578.3 234.5 580.6 C234.9 582.9 235.3 584.9 235.8 586.9 C236.2 588.8 236.7 590.5 237.2 592.2 C237.7 593.9 238.4 595.6 239.0 597.1 C239.6 598.5 240.2 599.6 241.0 600.8 C241.7 601.9 242.7 603.2 243.5 604.1 C244.3 605.0 245.1 605.6 246.0 606.3 C246.9 606.9 247.7 607.5 249.0 608.1 C250.3 608.7 252.0 609.3 254.0 609.8 C256.0 610.3 259.0 610.8 261.0 611.1 C263.0 611.4 264.6 611.5 266.0 611.6 C267.4 611.7 268.9 611.7 269.5 611.8" fill="none" stroke="#FF0000" stroke-width="1.25" stroke-linejoin="round" stroke-linecap="round" stroke-dasharray="0.25 3.55" clip-path="url(#cC)"/>
<path d="M80.5 611.8 C80.7 611.7 81.4 611.8 82.0 611.4 C82.6 610.9 83.4 610.7 84.0 609.1 C84.6 607.4 85.2 605.9 85.8 601.6 C86.4 597.3 87.1 589.5 87.6 583.2 C88.1 576.8 88.6 571.3 89.0 563.4 C89.4 555.4 89.9 546.0 90.2 535.6 C90.5 525.1 90.6 514.7 90.9 500.6 C91.2 486.4 91.7 467.2 92.0 450.6 C92.3 433.9 92.6 417.2 92.8 400.6 C93.0 383.9 93.1 368.9 93.3 350.6 C93.5 332.2 92.8 313.9 93.8 290.6 C94.7 267.2 97.2 210.6 99.0 210.6 C100.7 210.6 103.4 267.2 104.3 290.6 C105.2 313.9 104.5 332.2 104.6 350.6 C104.7 368.9 104.8 383.9 105.0 400.6 C105.2 417.2 105.3 435.6 105.6 450.6 C105.8 465.6 106.2 479.7 106.5 490.6 C106.8 501.4 106.9 508.1 107.2 515.6 C107.5 523.1 107.8 528.9 108.2 535.6 C108.6 542.2 109.0 548.9 109.4 555.6 C109.8 562.2 110.2 569.2 110.6 575.6 C111.0 581.9 111.5 588.9 112.0 593.6 C112.5 598.2 112.9 600.8 113.4 603.6 C113.8 606.3 114.2 608.7 114.7 610.1 C115.2 611.4 116.2 611.5 116.5 611.8" fill="none" stroke="#0000FF" stroke-width="1.2" stroke-linejoin="round" stroke-linecap="round" stroke-dasharray="0.25 3.55" stroke-dashoffset="0.00" clip-path="url(#cC)"/>
<path d="M82.0 611.8 C82.2 611.7 82.9 611.8 83.5 611.4 C84.0 610.9 84.7 610.7 85.3 609.1 C85.9 607.4 86.4 605.9 87.0 601.6 C87.6 597.3 88.4 589.5 89.0 583.2 C89.6 576.8 89.9 571.3 90.4 563.4 C90.8 555.4 91.4 546.0 91.7 535.6 C92.0 525.1 92.1 514.7 92.4 500.6 C92.7 486.4 93.1 467.2 93.4 450.6 C93.7 433.9 93.8 417.2 94.0 400.6 C94.2 383.9 94.3 368.9 94.5 350.6 C94.7 332.2 94.1 313.9 95.0 290.6 C95.9 267.2 98.1 210.6 99.8 210.6 C101.5 210.6 104.1 267.2 105.0 290.6 C105.9 313.9 105.2 332.2 105.3 350.6 C105.4 368.9 105.6 383.9 105.8 400.6 C106.0 417.2 106.1 435.6 106.4 450.6 C106.6 465.6 107.0 479.7 107.3 490.6 C107.6 501.4 107.7 508.1 108.0 515.6 C108.3 523.1 108.6 528.9 109.0 535.6 C109.4 542.2 109.8 548.9 110.2 555.6 C110.6 562.2 111.0 569.2 111.4 575.6 C111.8 581.9 112.3 588.9 112.8 593.6 C113.3 598.2 113.7 600.8 114.2 603.6 C114.6 606.3 115.0 608.7 115.5 610.1 C116.0 611.4 117.0 611.5 117.3 611.8" fill="none" stroke="#0000FF" stroke-width="1.2" stroke-linejoin="round" stroke-linecap="round" stroke-dasharray="0.25 3.55" stroke-dashoffset="1.90" clip-path="url(#cC)"/>
<path d="M69.5 611.5 C70.2 611.0 72.8 609.9 73.8 608.8 C74.8 607.7 75.0 606.5 75.5 605.0 C76.0 603.5 76.5 602.0 76.9 600.0 C77.3 598.0 77.6 595.3 77.9 593.0 C78.2 590.7 78.5 589.5 78.8 586.3 C79.1 583.1 79.6 579.0 80.0 573.8 C80.4 568.6 80.9 561.2 81.3 555.0 C81.7 548.8 82.1 542.5 82.5 536.3 C82.9 530.1 83.4 523.7 83.8 518.0 C84.2 512.3 84.6 507.0 85.0 502.0 C85.4 497.0 85.9 492.0 86.3 488.0 C86.7 484.0 87.0 480.6 87.3 478.0 C87.6 475.4 87.9 473.9 88.3 472.5 C88.7 471.1 89.2 470.3 89.8 469.8 C90.3 469.3 91.0 468.9 91.6 469.7 C92.2 470.5 92.9 472.6 93.5 474.5 C94.1 476.4 94.4 478.0 95.4 481.2 C96.4 484.4 98.0 489.5 99.3 493.6 C100.6 497.7 101.8 501.5 103.1 505.9 C104.4 510.3 105.8 515.4 107.0 519.8 C108.2 524.2 109.1 528.4 110.1 532.1 C111.1 535.8 112.0 539.4 112.8 542.0 C113.6 544.6 114.6 547.0 115.0 548.0" fill="none" stroke="#404040" stroke-width="2.45" stroke-linejoin="round" stroke-linecap="round" stroke-dasharray="4.9 9.5" clip-path="url(#cC)"/>
<path d="M69.5 611.5 C70.2 611.0 72.8 609.9 73.8 608.8 C74.8 607.7 75.0 606.5 75.5 605.0 C76.0 603.5 76.5 602.0 76.9 600.0 C77.3 598.0 77.6 595.3 77.9 593.0 C78.2 590.7 78.5 589.5 78.8 586.3 C79.1 583.1 79.6 579.0 80.0 573.8 C80.4 568.6 80.9 561.2 81.3 555.0 C81.7 548.8 82.1 542.5 82.5 536.3 C82.9 530.1 83.4 523.7 83.8 518.0 C84.2 512.3 84.6 507.0 85.0 502.0 C85.4 497.0 85.9 492.7 86.3 488.0 C86.7 483.3 87.1 478.7 87.5 474.0 C87.9 469.3 88.4 464.7 88.8 460.0 C89.2 455.3 89.6 450.2 90.0 446.0 C90.4 441.8 90.6 438.3 91.0 435.0 C91.4 431.7 91.9 427.4 92.3 426.0 C92.7 424.6 93.1 426.0 93.6 426.8 C94.0 427.6 94.6 429.7 95.0 431.0 C95.4 432.3 95.3 432.4 95.8 434.5 C96.2 436.6 97.0 439.9 97.7 443.3 C98.4 446.8 99.0 450.8 99.7 455.2 C100.4 459.6 101.0 465.0 101.7 469.8 C102.4 474.6 103.0 479.1 103.7 484.0 C104.4 488.9 105.2 494.0 106.0 499.0 C106.8 504.0 107.7 509.2 108.5 514.0 C109.3 518.8 110.2 523.7 111.0 528.0 C111.8 532.3 112.8 536.8 113.5 540.0 C114.2 543.2 115.2 545.8 115.5 547.0" fill="none" stroke="#404040" stroke-width="2.45" stroke-linejoin="round" stroke-linecap="round" stroke-dasharray="4.9 9.5" clip-path="url(#cC)"/>
<path d="M57.5 611.6 C58.1 611.3 60.3 610.7 61.3 610.0 C62.3 609.3 62.8 608.5 63.5 607.5 C64.2 606.5 65.0 605.3 65.6 603.8 C66.2 602.3 66.8 600.4 67.3 598.5 C67.8 596.6 68.3 594.6 68.8 592.5 C69.3 590.4 69.7 588.1 70.1 586.0 C70.5 583.9 70.8 583.1 71.3 580.0 C71.8 576.9 72.6 570.9 73.1 567.5 C73.6 564.1 74.0 562.7 74.4 559.8 C74.8 556.9 75.1 553.3 75.5 550.0 C75.9 546.7 76.2 543.3 76.6 540.0 C76.9 536.7 77.3 532.9 77.6 530.0 C77.9 527.1 78.1 526.1 78.5 522.8 C78.9 519.5 79.5 514.1 80.0 510.0 C80.5 505.9 81.0 501.8 81.6 498.1 C82.2 494.4 82.8 491.5 83.5 488.0 C84.2 484.5 84.9 481.0 85.5 477.0 C86.1 473.0 86.7 468.4 87.2 464.0 C87.8 459.6 88.3 455.3 88.8 450.8 C89.3 446.3 89.8 441.4 90.3 437.0 C90.8 432.6 91.5 429.4 91.9 424.1 C92.4 418.9 92.6 410.5 93.0 405.5 C93.4 400.5 93.9 395.6 94.4 394.0 C94.9 392.4 95.3 395.0 95.8 396.0 C96.3 397.0 96.8 398.5 97.2 400.0 C97.6 401.5 98.0 402.8 98.4 404.9 C98.8 407.0 99.2 409.9 99.5 412.5 C99.8 415.1 100.0 417.0 100.4 420.8 C100.8 424.6 101.3 430.5 101.7 435.3 C102.1 440.1 102.5 445.0 103.0 449.9 C103.5 454.8 103.9 459.2 104.4 464.5 C105.0 469.8 105.7 476.3 106.3 481.7 C106.9 487.1 107.6 491.9 108.3 497.0 C109.0 502.1 109.6 507.3 110.4 512.5 C111.2 517.7 112.2 523.2 113.0 528.0 C113.8 532.8 114.6 536.5 115.5 541.0 C116.4 545.5 117.3 550.6 118.2 555.0 C119.1 559.4 119.9 564.0 120.8 567.3 C121.7 570.5 122.6 572.3 123.4 574.5 C124.2 576.7 125.0 578.2 125.8 580.5 C126.6 582.8 127.3 585.6 128.0 588.0 C128.7 590.4 129.2 592.9 129.7 595.1 C130.2 597.4 130.5 599.6 130.9 601.5 C131.3 603.4 131.6 605.1 131.9 606.5 C132.2 607.9 132.6 609.1 133.0 610.0 C133.4 610.9 134.1 611.6 134.3 611.9" fill="none" stroke="#404040" stroke-width="2.45" stroke-linejoin="round" stroke-linecap="round" stroke-dasharray="4.9 9.5" clip-path="url(#cC)"/>
<rect x="212.06" y="351.1" width="121.38999999999999" height="65.19999999999999" fill="#fff" stroke="#1a1a1a" stroke-width="1.5"/>
<line x1="221.90" y1="364.40" x2="241.50" y2="364.40" stroke="#A020F0" stroke-width="2.2" stroke-linecap="round"/>
<text x="251.30" y="368.05" font-size="10.9">library feature</text>
<line x1="221.40" y1="377.43" x2="242.60" y2="377.43" stroke="#0000FF" stroke-width="1.25" stroke-linecap="round" stroke-dasharray="0.25 3.55"/>
<text x="251.30" y="381.08" font-size="10.9">negative control</text>
<line x1="221.40" y1="390.46" x2="242.60" y2="390.46" stroke="#FF0000" stroke-width="1.25" stroke-linecap="round" stroke-dasharray="0.25 3.55"/>
<text x="251.30" y="394.11" font-size="10.9">positive control</text>
<line x1="222.03" y1="403.49" x2="226.88" y2="403.49" stroke="#404040" stroke-width="2.45" stroke-linecap="round"/>
<line x1="236.52" y1="403.49" x2="241.38" y2="403.49" stroke="#404040" stroke-width="2.45" stroke-linecap="round"/>
<text x="251.30" y="407.14" font-size="10.9">core set</text>
<clipPath id="cD"><rect x="377.06" y="351.1" width="307.23999999999995" height="270.79999999999995"/></clipPath>
<rect x="377.06" y="351.1" width="307.23999999999995" height="270.79999999999995" fill="none" stroke="#1a1a1a" stroke-width="1.5"/>
<line x1="392.15" y1="621.90" x2="392.15" y2="629.80" stroke="#1a1a1a" stroke-width="1.4" stroke-linecap="butt"/>
<text x="392.15" y="648.25" font-size="12.4" text-anchor="middle">−0.5</text>
<line x1="462.44" y1="621.90" x2="462.44" y2="629.80" stroke="#1a1a1a" stroke-width="1.4" stroke-linecap="butt"/>
<text x="462.44" y="648.25" font-size="12.4" text-anchor="middle">0.0</text>
<line x1="532.73" y1="621.90" x2="532.73" y2="629.80" stroke="#1a1a1a" stroke-width="1.4" stroke-linecap="butt"/>
<text x="532.73" y="648.25" font-size="12.4" text-anchor="middle">0.5</text>
<line x1="603.01" y1="621.90" x2="603.01" y2="629.80" stroke="#1a1a1a" stroke-width="1.4" stroke-linecap="butt"/>
<text x="603.01" y="648.25" font-size="12.4" text-anchor="middle">1.0</text>
<line x1="673.29" y1="621.90" x2="673.29" y2="629.80" stroke="#1a1a1a" stroke-width="1.4" stroke-linecap="butt"/>
<text x="673.29" y="648.25" font-size="12.4" text-anchor="middle">1.5</text>
<line x1="369.16" y1="611.76" x2="377.06" y2="611.76" stroke="#1a1a1a" stroke-width="1.4" stroke-linecap="butt"/>
<text transform="translate(359.76 611.76) rotate(-90)" font-size="12.4" text-anchor="middle">0</text>
<line x1="369.16" y1="566.47" x2="377.06" y2="566.47" stroke="#1a1a1a" stroke-width="1.4" stroke-linecap="butt"/>
<text transform="translate(359.76 566.47) rotate(-90)" font-size="12.4" text-anchor="middle">1</text>
<line x1="369.16" y1="521.18" x2="377.06" y2="521.18" stroke="#1a1a1a" stroke-width="1.4" stroke-linecap="butt"/>
<text transform="translate(359.76 521.18) rotate(-90)" font-size="12.4" text-anchor="middle">2</text>
<line x1="369.16" y1="475.89" x2="377.06" y2="475.89" stroke="#1a1a1a" stroke-width="1.4" stroke-linecap="butt"/>
<text transform="translate(359.76 475.89) rotate(-90)" font-size="12.4" text-anchor="middle">3</text>
<line x1="369.16" y1="430.60" x2="377.06" y2="430.60" stroke="#1a1a1a" stroke-width="1.4" stroke-linecap="butt"/>
<text transform="translate(359.76 430.60) rotate(-90)" font-size="12.4" text-anchor="middle">4</text>
<line x1="369.16" y1="385.31" x2="377.06" y2="385.31" stroke="#1a1a1a" stroke-width="1.4" stroke-linecap="butt"/>
<text transform="translate(359.76 385.31) rotate(-90)" font-size="12.4" text-anchor="middle">5</text>
<text x="530.68" y="677.30" font-size="12.2" text-anchor="middle">rscreenorm score</text>
<text x="384.80" y="380.20" font-size="25">D</text>
<path d="M431.0 612.0 C431.5 612.0 433.0 611.9 434.0 611.8 C435.0 611.7 436.1 611.5 437.0 611.2 C437.9 610.9 438.7 610.7 439.5 610.0 C440.3 609.3 440.8 608.6 441.6 607.0 C442.4 605.4 443.5 603.3 444.4 600.5 C445.4 597.7 446.4 594.1 447.1 590.0 C447.8 585.9 448.2 581.0 448.8 576.0 C449.4 571.0 449.9 565.3 450.4 560.0 C450.9 554.7 451.4 549.3 451.9 544.0 C452.4 538.7 452.9 533.3 453.3 528.0 C453.8 522.7 454.2 517.2 454.6 512.0 C455.0 506.8 455.6 501.8 455.9 497.0 C456.2 492.2 456.3 487.5 456.5 483.0 C456.7 478.5 456.7 473.7 457.0 470.0 C457.3 466.3 457.7 463.9 458.2 461.0 C458.7 458.1 459.4 454.7 460.0 452.5 C460.6 450.3 461.0 449.0 461.5 448.0 C462.0 447.0 462.6 446.4 463.1 446.4 C463.7 446.4 464.3 447.2 464.8 448.0 C465.3 448.8 465.6 449.3 466.3 451.3 C467.0 453.3 468.1 456.9 468.8 460.0 C469.5 463.1 470.0 466.7 470.6 470.0 C471.2 473.3 471.9 476.8 472.5 480.0 C473.1 483.2 473.8 485.8 474.5 489.0 C475.2 492.2 476.1 495.3 477.0 499.0 C477.9 502.7 479.0 507.0 480.0 511.0 C481.0 515.0 482.0 519.3 483.0 523.0 C484.0 526.7 485.0 529.7 486.0 533.0 C487.0 536.3 488.0 539.7 489.0 543.0 C490.0 546.3 491.0 549.8 492.0 553.0 C493.0 556.2 494.0 559.3 495.0 562.5 C496.0 565.7 497.1 569.2 498.0 572.0 C498.9 574.8 499.8 576.9 500.5 579.0 C501.2 581.1 501.6 582.8 502.5 584.5 C503.4 586.2 504.8 588.1 506.0 589.5 C507.2 590.9 507.7 591.4 510.0 593.0 C512.3 594.6 515.4 597.4 520.0 599.4 C524.6 601.4 531.2 603.2 537.6 604.7 C544.0 606.2 551.5 607.3 558.6 608.2 C565.7 609.1 571.4 609.5 580.0 610.0 C588.6 610.5 597.8 610.9 610.0 611.2 C622.2 611.5 646.2 611.6 653.5 611.7" fill="none" stroke="#A020F0" stroke-width="1.8" stroke-linejoin="round" stroke-linecap="round" clip-path="url(#cD)"/>
<path d="M430.0 612.0 C430.5 612.0 432.0 611.9 433.0 611.8 C434.0 611.7 435.1 611.5 436.0 611.2 C436.9 610.9 437.7 610.7 438.5 610.0 C439.3 609.3 439.8 608.6 440.6 607.0 C441.4 605.4 442.5 603.3 443.4 600.5 C444.4 597.7 445.4 594.1 446.1 590.0 C446.8 585.9 447.2 581.0 447.8 576.0 C448.4 571.0 448.9 565.5 449.4 560.0 C449.9 554.5 450.4 548.8 450.9 543.0 C451.4 537.2 451.8 531.2 452.2 525.0 C452.6 518.8 453.1 512.0 453.5 506.0 C453.9 500.0 454.2 494.5 454.4 489.0 C454.6 483.5 454.5 478.0 454.8 473.0 C455.0 468.0 455.5 463.8 455.9 459.0 C456.3 454.2 456.8 448.7 457.2 444.0 C457.6 439.3 458.1 434.8 458.5 431.0 C458.9 427.2 459.1 423.3 459.5 421.0 C459.9 418.7 460.2 417.5 460.6 417.0 C461.0 416.5 461.5 417.5 461.9 418.2 C462.3 418.9 462.6 419.1 463.1 421.3 C463.6 423.5 464.4 427.6 465.0 431.3 C465.6 435.1 466.2 439.5 466.9 443.8 C467.6 448.1 468.3 452.6 469.0 457.0 C469.7 461.4 470.3 466.0 471.0 470.0 C471.7 474.0 472.4 477.3 473.2 481.0 C473.9 484.7 474.7 488.3 475.5 492.0 C476.3 495.7 477.1 499.0 478.0 503.0 C478.9 507.0 480.0 511.8 481.0 516.0 C482.0 520.2 483.0 524.2 484.0 528.0 C485.0 531.8 486.0 535.1 487.0 538.5 C488.0 541.9 489.0 545.2 490.0 548.5 C491.0 551.8 492.0 554.9 493.0 558.0 C494.0 561.1 495.0 564.1 496.0 567.0 C497.0 569.9 498.1 573.0 499.0 575.5 C499.9 578.0 500.7 580.0 501.5 582.0 C502.3 584.0 503.1 585.9 504.0 587.5 C504.9 589.1 506.0 590.2 507.0 591.5 C508.0 592.8 507.8 593.8 510.0 595.5 C512.2 597.2 515.4 600.2 520.0 602.0 C524.6 603.8 531.2 605.1 537.6 606.4 C544.0 607.6 549.9 608.7 558.6 609.5 C567.3 610.3 578.1 610.6 590.0 611.0 C601.9 611.4 619.4 611.5 630.0 611.6 C640.6 611.7 649.6 611.7 653.5 611.7" fill="none" stroke="#A020F0" stroke-width="1.8" stroke-linejoin="round" stroke-linecap="round" clip-path="url(#cD)"/>
<path d="M429.0 612.0 C429.5 612.0 431.0 611.9 432.0 611.8 C433.0 611.7 434.1 611.5 435.0 611.2 C435.9 610.9 436.7 610.7 437.5 610.0 C438.3 609.3 438.9 608.6 439.8 607.0 C440.6 605.4 441.7 603.3 442.6 600.5 C443.6 597.7 444.6 594.1 445.3 590.0 C446.0 585.9 446.4 581.0 447.0 576.0 C447.6 571.0 448.1 565.5 448.6 560.0 C449.1 554.5 449.6 548.8 450.1 543.0 C450.6 537.2 451.1 531.3 451.5 525.0 C451.9 518.7 452.5 511.3 452.8 505.0 C453.1 498.7 453.3 492.8 453.5 487.0 C453.6 481.2 453.5 475.3 453.8 470.0 C454.1 464.7 454.6 460.4 455.0 455.0 C455.4 449.6 455.9 442.9 456.3 437.5 C456.7 432.1 457.1 427.0 457.5 422.5 C457.9 418.0 458.4 413.4 458.8 410.5 C459.2 407.6 459.6 406.2 460.0 405.0 C460.4 403.8 460.8 403.2 461.3 403.2 C461.8 403.2 462.3 403.9 462.8 405.0 C463.3 406.1 463.8 407.1 464.4 410.0 C465.0 412.9 465.7 417.9 466.3 422.5 C466.9 427.1 467.5 432.5 468.1 437.5 C468.7 442.5 469.4 447.5 470.0 452.5 C470.6 457.5 471.3 462.9 471.9 467.5 C472.5 472.1 473.1 476.2 473.6 480.0 C474.2 483.8 474.6 486.3 475.2 490.0 C475.8 493.7 476.7 498.0 477.5 502.0 C478.3 506.0 479.3 510.0 480.2 514.0 C481.1 518.0 482.1 522.5 483.0 526.0 C483.9 529.5 484.7 531.8 485.6 535.0 C486.5 538.2 487.5 541.5 488.5 545.0 C489.5 548.5 490.5 552.5 491.5 556.0 C492.5 559.5 493.5 562.8 494.5 566.0 C495.5 569.2 496.6 572.8 497.5 575.5 C498.4 578.2 499.2 579.9 500.0 582.0 C500.8 584.1 501.7 586.2 502.5 588.0 C503.3 589.8 503.8 590.8 505.0 592.5 C506.2 594.2 507.5 596.0 510.0 598.0 C512.5 600.0 515.4 602.9 520.0 604.7 C524.6 606.5 531.2 608.0 537.6 609.0 C544.0 610.0 548.2 610.4 558.6 610.8 C569.0 611.2 584.2 611.3 600.0 611.5 C615.8 611.7 644.6 611.8 653.5 611.8" fill="none" stroke="#A020F0" stroke-width="1.8" stroke-linejoin="round" stroke-linecap="round" clip-path="url(#cD)"/>
<path d="M440.0 612.0 C441.3 611.9 445.3 611.6 448.0 611.3 C450.7 611.0 453.2 610.4 456.0 610.4 C458.8 610.4 461.8 611.0 465.0 611.2 C468.2 611.4 470.8 611.5 475.0 611.6 C479.2 611.7 485.0 611.8 490.0 611.8 C495.0 611.8 500.8 611.6 505.0 611.3 C509.2 611.0 512.4 610.6 515.0 610.2 C517.6 609.8 519.0 609.5 520.8 609.1 C522.5 608.7 524.0 608.3 525.5 607.6 C527.0 606.9 528.5 606.0 530.0 605.0 C531.5 604.0 532.9 602.9 534.2 601.8 C535.5 600.7 536.8 599.7 538.0 598.5 C539.2 597.3 540.5 596.2 541.5 594.5 C542.5 592.8 543.3 590.2 544.0 588.0 C544.7 585.8 545.3 583.6 545.9 581.3 C546.5 579.0 546.9 575.8 547.5 574.0 C548.1 572.2 548.7 571.5 549.5 570.8 C550.3 570.1 551.7 570.3 552.5 569.6 C553.3 568.9 553.8 567.8 554.5 566.5 C555.2 565.2 555.9 563.8 556.5 562.0 C557.1 560.2 557.8 558.8 558.4 556.0 C559.0 553.2 559.6 548.8 560.2 545.0 C560.8 541.2 561.4 537.0 562.0 533.0 C562.6 529.0 563.2 524.9 563.8 521.0 C564.4 517.1 564.9 514.9 565.4 509.7 C565.9 504.5 566.3 496.3 566.8 490.0 C567.3 483.7 567.7 478.0 568.2 472.0 C568.7 466.0 569.2 460.5 569.6 453.8 C570.0 447.1 570.4 439.0 570.8 432.0 C571.2 425.0 571.6 418.0 572.0 412.0 C572.4 406.0 572.8 400.3 573.3 396.0 C573.8 391.7 574.2 388.4 574.8 386.0 C575.3 383.6 576.0 381.9 576.6 381.7 C577.2 381.5 577.8 383.3 578.3 385.0 C578.8 386.7 579.1 389.0 579.6 392.0 C580.1 395.0 580.5 398.7 581.0 403.0 C581.5 407.3 582.0 412.5 582.5 418.0 C583.0 423.5 583.4 430.0 583.8 436.0 C584.2 442.0 584.5 447.8 584.9 453.8 C585.3 459.8 585.8 465.8 586.3 472.0 C586.8 478.2 587.2 484.7 587.7 491.0 C588.2 497.3 588.6 503.7 589.1 509.7 C589.6 515.7 590.0 521.8 590.5 527.0 C591.0 532.2 591.5 537.0 592.0 541.0 C592.5 545.0 592.9 547.8 593.4 551.0 C593.9 554.2 594.2 556.0 594.7 560.0 C595.2 564.0 595.9 570.4 596.5 575.0 C597.1 579.6 597.6 583.8 598.3 587.7 C598.9 591.6 599.7 595.4 600.4 598.5 C601.1 601.6 601.7 604.7 602.5 606.5 C603.3 608.3 604.0 608.7 605.3 609.5 C606.5 610.3 608.0 610.8 610.0 611.2 C612.0 611.6 615.8 611.7 617.0 611.8" fill="none" stroke="#FF0000" stroke-width="1.25" stroke-linejoin="round" stroke-linecap="round" stroke-dasharray="0.25 3.55" clip-path="url(#cD)"/>
<path d="M455.0 612.0 C457.5 611.9 465.0 611.3 470.0 611.3 C475.0 611.3 480.0 611.8 485.0 611.8 C490.0 611.8 495.5 611.2 500.0 611.0 C504.5 610.8 508.7 610.7 512.0 610.5 C515.3 610.3 517.0 610.2 520.0 609.8 C523.0 609.4 526.7 608.8 530.0 608.2 C533.3 607.6 537.3 606.7 540.0 606.0 C542.7 605.3 544.0 604.7 546.0 604.0 C548.0 603.3 550.3 602.8 551.8 601.8 C553.3 600.8 553.8 599.4 554.8 598.2 C555.8 597.0 556.6 595.6 557.6 594.5 C558.6 593.4 559.5 592.5 560.5 591.5 C561.5 590.5 562.4 589.6 563.4 588.6 C564.4 587.6 565.3 586.4 566.3 585.2 C567.3 584.0 568.3 582.7 569.3 581.3 C570.2 579.9 571.1 578.6 572.0 577.0 C572.9 575.4 573.7 573.3 574.5 571.5 C575.3 569.7 576.2 567.9 577.0 566.0 C577.8 564.1 578.5 563.2 579.3 560.0 C580.1 556.8 580.9 551.2 581.7 547.0 C582.5 542.8 583.2 539.2 584.0 535.0 C584.8 530.8 585.6 526.2 586.5 522.0 C587.4 517.8 588.3 515.4 589.1 509.7 C589.9 504.0 590.7 495.3 591.5 488.0 C592.3 480.7 593.2 472.3 594.0 466.0 C594.8 459.7 595.5 454.8 596.3 450.0 C597.0 445.2 597.8 440.8 598.5 437.0 C599.2 433.2 600.0 429.3 600.8 427.0 C601.6 424.7 602.4 423.4 603.1 423.1 C603.9 422.9 604.6 424.0 605.3 425.5 C606.0 427.0 606.8 428.9 607.4 432.0 C608.0 435.1 608.3 440.2 608.8 443.8 C609.2 447.4 609.5 447.4 610.1 453.8 C610.7 460.2 611.5 472.7 612.2 482.0 C612.9 491.3 613.5 500.9 614.3 509.7 C615.1 518.5 616.2 526.6 617.1 535.0 C618.0 543.4 619.1 554.1 619.9 560.0 C620.6 565.9 621.0 567.0 621.6 570.5 C622.2 574.0 622.5 577.5 623.3 580.8 C624.1 584.0 625.4 587.2 626.4 590.0 C627.4 592.8 628.5 595.3 629.5 597.4 C630.5 599.5 631.6 600.9 632.6 602.5 C633.6 604.1 634.6 606.0 635.8 607.2 C637.0 608.4 638.3 608.9 640.0 609.5 C641.7 610.1 644.0 610.5 646.0 610.8 C648.0 611.1 650.1 611.2 652.0 611.4 C653.9 611.6 655.6 611.7 657.3 611.8 C659.0 611.9 661.2 611.9 662.0 611.9" fill="none" stroke="#FF0000" stroke-width="1.25" stroke-linejoin="round" stroke-linecap="round" stroke-dasharray="0.25 3.55" clip-path="url(#cD)"/>
<path d="M465.0 612.0 C467.5 611.9 475.0 611.4 480.0 611.4 C485.0 611.4 490.8 611.8 495.0 611.8 C499.2 611.8 501.7 611.5 505.0 611.2 C508.3 610.9 511.7 610.6 515.0 610.2 C518.3 609.8 522.0 609.5 525.0 609.0 C528.0 608.5 530.5 608.0 533.0 607.5 C535.5 607.0 538.2 606.6 540.1 606.1 C542.0 605.6 543.0 605.1 544.5 604.5 C546.0 603.9 547.5 603.3 548.8 602.5 C550.1 601.7 551.3 600.6 552.5 599.5 C553.7 598.4 555.1 597.2 556.1 595.9 C557.1 594.6 557.6 593.2 558.3 591.5 C559.0 589.8 559.8 588.1 560.5 585.7 C561.2 583.3 562.0 579.9 562.7 577.0 C563.4 574.1 564.2 571.0 564.9 568.2 C565.6 565.4 566.1 563.2 566.8 560.0 C567.5 556.8 568.3 552.2 569.3 549.2 C570.3 546.2 571.7 544.4 573.0 542.0 C574.3 539.6 575.5 538.3 577.0 535.0 C578.5 531.7 580.2 526.2 581.7 522.0 C583.2 517.8 585.1 514.2 586.3 509.7 C587.5 505.2 588.1 499.8 589.0 495.0 C589.9 490.2 590.7 485.5 591.5 481.0 C592.3 476.5 593.2 471.3 594.0 468.0 C594.8 464.7 595.4 462.9 596.0 461.0 C596.6 459.1 597.3 457.5 597.9 456.5 C598.5 455.5 599.1 455.3 599.7 455.2 C600.3 455.1 600.9 455.3 601.5 456.0 C602.1 456.7 602.7 457.8 603.2 459.5 C603.8 461.2 604.2 462.9 604.8 466.0 C605.3 469.1 605.9 473.2 606.5 478.0 C607.1 482.8 607.7 489.7 608.3 495.0 C608.9 500.3 609.5 504.4 610.1 509.7 C610.7 515.0 611.4 521.5 612.0 527.0 C612.6 532.5 613.2 537.5 613.8 543.0 C614.4 548.5 614.9 555.3 615.7 560.0 C616.5 564.7 617.6 567.5 618.5 571.0 C619.4 574.5 620.2 577.6 621.2 580.8 C622.2 584.0 623.3 587.2 624.3 590.0 C625.3 592.8 626.5 595.3 627.4 597.4 C628.3 599.5 628.8 600.9 629.5 602.5 C630.2 604.1 630.5 606.0 631.6 607.2 C632.7 608.4 634.3 609.2 636.0 609.8 C637.7 610.4 639.7 610.7 642.0 611.0 C644.3 611.3 647.5 611.5 650.0 611.6 C652.5 611.7 655.8 611.8 657.0 611.8" fill="none" stroke="#FF0000" stroke-width="1.25" stroke-linejoin="round" stroke-linecap="round" stroke-dasharray="0.25 3.55" clip-path="url(#cD)"/>
<path d="M445.0 612.0 C445.5 611.9 447.0 612.0 448.0 611.5 C449.0 611.0 450.1 610.4 451.0 609.0 C451.9 607.6 452.8 605.8 453.5 603.0 C454.2 600.2 454.9 596.7 455.5 592.0 C456.1 587.3 456.4 582.0 456.8 575.0 C457.2 568.0 457.5 559.2 457.8 550.0 C458.1 540.8 458.4 530.0 458.7 520.0 C459.0 510.0 459.2 500.0 459.4 490.0 C459.6 480.0 459.8 470.0 460.0 460.0 C460.2 450.0 460.4 440.0 460.5 430.0 C460.6 420.0 460.8 413.2 460.9 400.0 C461.0 386.8 461.1 367.7 461.2 351.0 C461.3 334.3 460.5 325.2 461.5 300.0 C462.5 274.8 465.1 200.0 467.0 200.0 C468.9 200.0 472.0 274.8 473.0 300.0 C474.0 325.2 473.1 334.3 473.2 351.0 C473.3 367.7 473.4 386.8 473.5 400.0 C473.6 413.2 473.9 420.0 474.1 430.0 C474.3 440.0 474.6 450.0 474.8 460.0 C475.1 470.0 475.3 480.0 475.6 490.0 C475.9 500.0 476.3 510.0 476.6 520.0 C476.9 530.0 477.2 541.3 477.6 550.0 C478.0 558.7 478.4 566.2 478.8 572.0 C479.2 577.8 479.8 581.2 480.2 585.0 C480.6 588.8 481.1 592.0 481.5 595.0 C481.9 598.0 482.4 600.8 482.8 603.0 C483.2 605.2 483.6 607.1 484.0 608.5 C484.4 609.9 484.6 610.6 485.3 611.2 C486.0 611.8 487.6 611.9 488.0 612.0" fill="none" stroke="#0000FF" stroke-width="1.25" stroke-linejoin="round" stroke-linecap="round" stroke-dasharray="0.25 3.55" clip-path="url(#cD)"/>
<path d="M448.0 612.0 C448.5 611.9 450.0 612.0 451.0 611.5 C452.0 611.0 453.1 610.4 454.0 609.0 C454.9 607.6 455.8 605.8 456.5 603.0 C457.2 600.2 457.9 596.7 458.5 592.0 C459.1 587.3 459.4 582.0 459.8 575.0 C460.2 568.0 460.5 559.2 460.8 550.0 C461.1 540.8 461.4 530.0 461.7 520.0 C462.0 510.0 462.2 500.0 462.4 490.0 C462.6 480.0 462.9 470.0 463.1 460.0 C463.3 450.0 463.4 440.0 463.6 430.0 C463.8 420.0 464.0 413.2 464.1 400.0 C464.2 386.8 464.3 367.7 464.4 351.0 C464.5 334.3 463.5 325.2 464.6 300.0 C465.7 274.8 468.9 200.0 471.0 200.0 C473.1 200.0 476.0 274.8 477.0 300.0 C478.0 325.2 477.1 334.3 477.2 351.0 C477.3 367.7 477.3 386.8 477.4 400.0 C477.5 413.2 477.7 420.0 477.9 430.0 C478.1 440.0 478.2 450.0 478.4 460.0 C478.6 470.0 478.8 480.0 479.0 490.0 C479.2 500.0 479.5 510.0 479.7 520.0 C479.9 530.0 480.1 541.3 480.4 550.0 C480.6 558.7 480.9 566.2 481.2 572.0 C481.5 577.8 481.9 581.2 482.2 585.0 C482.5 588.8 482.8 592.0 483.2 595.0 C483.6 598.0 483.9 600.8 484.3 603.0 C484.7 605.2 484.9 607.1 485.3 608.5 C485.7 609.9 485.9 610.6 486.5 611.2 C487.1 611.8 488.6 611.9 489.0 612.0" fill="none" stroke="#0000FF" stroke-width="1.25" stroke-linejoin="round" stroke-linecap="round" stroke-dasharray="0.25 3.55" clip-path="url(#cD)"/>
<path d="M429.0 612.0 C429.5 612.0 431.0 611.9 432.0 611.8 C433.0 611.7 434.1 611.5 435.0 611.2 C435.9 610.9 436.7 610.7 437.5 610.0 C438.3 609.3 439.2 608.6 440.0 607.0 C440.8 605.4 441.6 603.3 442.3 600.5 C443.0 597.7 443.7 594.1 444.3 590.0 C444.9 585.9 445.4 581.0 446.0 576.0 C446.6 571.0 447.1 565.5 447.6 560.0 C448.1 554.5 448.6 548.8 449.1 543.0 C449.6 537.2 450.1 531.0 450.5 525.0 C450.9 519.0 451.4 512.8 451.8 507.0 C452.2 501.2 452.6 495.3 453.0 490.0 C453.4 484.7 453.8 479.9 454.1 475.0 C454.5 470.1 454.8 465.5 455.1 460.5 C455.5 455.5 455.9 450.1 456.2 445.0 C456.5 439.9 457.0 432.5 457.2 430.0" fill="none" stroke="#404040" stroke-width="2.45" stroke-linejoin="round" stroke-linecap="round" stroke-dasharray="4.9 9.5" clip-path="url(#cD)"/>
<path d="M457.2 430.0 C457.4 427.8 457.9 420.5 458.3 417.0 C458.7 413.5 458.9 410.9 459.3 409.0 C459.7 407.1 460.1 406.2 460.5 405.8 C460.9 405.4 461.4 405.8 461.8 406.5 C462.2 407.2 462.5 408.1 463.0 410.0 C463.5 411.9 464.2 414.5 464.8 418.0 C465.4 421.5 466.1 426.3 466.8 431.0 C467.5 435.7 468.1 441.2 468.8 446.0 C469.5 450.8 470.1 455.7 470.8 460.0 C471.5 464.3 472.1 468.2 472.8 472.0 C473.5 475.8 474.2 479.2 475.0 483.0 C475.8 486.8 476.6 490.7 477.5 494.5 C478.4 498.3 479.3 502.1 480.2 506.0 C481.1 509.9 482.1 514.2 483.0 518.0 C483.9 521.8 484.8 525.2 485.7 528.5 C486.6 531.8 487.4 534.9 488.2 538.0 C489.0 541.1 489.8 544.0 490.5 547.0 C491.2 550.0 492.0 553.1 492.7 556.0 C493.4 558.9 494.1 561.8 494.8 564.5 C495.5 567.2 496.2 569.6 496.8 572.0 C497.4 574.4 498.0 576.5 498.5 579.0 C499.0 581.5 499.5 584.3 499.9 587.0 C500.3 589.7 500.7 592.3 501.0 595.0 C501.3 597.7 501.6 600.2 501.9 603.0 C502.1 605.8 502.4 610.3 502.5 611.8" fill="none" stroke="#404040" stroke-width="2.45" stroke-linejoin="round" stroke-linecap="round" stroke-dasharray="4.9 9.5" stroke-dashoffset="11.88" clip-path="url(#cD)"/>
<path d="M457.2 430.0 C457.4 428.3 458.0 422.4 458.5 420.0 C459.0 417.6 459.5 416.5 460.0 415.8 C460.5 415.1 461.1 415.0 461.6 415.6 C462.2 416.2 462.7 417.4 463.3 419.5 C463.9 421.6 464.4 424.6 465.0 428.0 C465.6 431.4 466.3 435.8 467.0 440.0 C467.7 444.2 468.3 448.8 469.0 453.0 C469.7 457.2 470.3 461.0 471.0 465.0 C471.7 469.0 472.5 473.2 473.3 477.0 C474.1 480.8 474.9 484.2 475.8 488.0 C476.7 491.8 477.6 496.0 478.5 500.0 C479.4 504.0 480.4 508.2 481.3 512.0 C482.2 515.8 483.1 519.5 484.0 523.0 C484.9 526.5 485.9 529.8 486.7 533.0 C487.5 536.2 488.2 539.0 489.0 542.0 C489.8 545.0 490.6 548.0 491.3 551.0 C492.1 554.0 492.8 557.2 493.5 560.0 C494.2 562.8 494.9 565.5 495.5 568.0 C496.1 570.5 496.7 572.7 497.2 575.0 C497.7 577.3 498.2 579.5 498.7 582.0 C499.2 584.5 499.6 587.3 500.0 590.0 C500.4 592.7 500.9 595.5 501.2 598.0 C501.5 600.5 501.8 602.7 502.0 605.0 C502.2 607.3 502.5 610.7 502.6 611.8" fill="none" stroke="#404040" stroke-width="2.45" stroke-linejoin="round" stroke-linecap="round" stroke-dasharray="4.9 9.5" stroke-dashoffset="1.69" clip-path="url(#cD)"/>
<path d="M457.2 430.0 C457.4 427.3 457.9 418.8 458.2 414.0 C458.5 409.2 458.8 404.2 459.1 401.0 C459.5 397.8 459.8 395.5 460.3 394.6 C460.8 393.7 461.5 395.1 462.0 395.8 C462.5 396.5 463.0 397.7 463.5 399.0 C464.0 400.3 464.4 400.7 465.0 403.8 C465.6 406.9 466.3 412.3 466.9 417.5 C467.5 422.7 468.2 429.6 468.8 435.0 C469.4 440.4 470.0 445.2 470.6 450.0 C471.2 454.8 471.9 459.7 472.5 464.0 C473.1 468.3 473.8 472.2 474.5 476.0 C475.2 479.8 476.0 483.2 476.8 487.0 C477.6 490.8 478.4 495.0 479.3 499.0 C480.2 503.0 481.1 507.1 482.0 511.0 C482.9 514.9 483.8 519.0 484.7 522.5 C485.6 526.0 486.4 529.1 487.2 532.0 C488.0 534.9 488.6 537.2 489.3 540.0 C490.0 542.8 490.8 546.0 491.5 549.0 C492.2 552.0 492.9 555.2 493.6 558.0 C494.3 560.8 495.0 563.5 495.6 566.0 C496.2 568.5 496.9 570.6 497.5 573.0 C498.1 575.4 498.8 578.0 499.3 580.5 C499.9 583.0 500.3 585.6 500.8 588.0 C501.3 590.4 501.7 592.8 502.2 595.0 C502.7 597.2 503.1 599.1 503.6 601.0 C504.1 602.9 504.6 604.7 505.0 606.5 C505.4 608.3 505.8 610.9 506.0 611.8" fill="none" stroke="#404040" stroke-width="2.45" stroke-linejoin="round" stroke-linecap="round" stroke-dasharray="4.9 9.5" stroke-dashoffset="3.75" clip-path="url(#cD)"/>
<rect x="562.94" y="351.1" width="121.3599999999999" height="65.19999999999999" fill="none" stroke="#1a1a1a" stroke-width="1.5"/>
<line x1="572.20" y1="364.20" x2="591.80" y2="364.20" stroke="#A020F0" stroke-width="2.2" stroke-linecap="round"/>
<text x="602.30" y="367.85" font-size="10.9">library feature</text>
<line x1="571.70" y1="377.30" x2="592.90" y2="377.30" stroke="#0000FF" stroke-width="1.25" stroke-linecap="round" stroke-dasharray="0.25 3.55"/>
<text x="602.30" y="380.95" font-size="10.9">negative control</text>
<line x1="571.70" y1="390.40" x2="592.90" y2="390.40" stroke="#FF0000" stroke-width="1.25" stroke-linecap="round" stroke-dasharray="0.25 3.55"/>
<text x="602.30" y="394.05" font-size="10.9">positive control</text>
<line x1="572.33" y1="403.50" x2="577.17" y2="403.50" stroke="#404040" stroke-width="2.45" stroke-linecap="round"/>
<line x1="586.83" y1="403.50" x2="591.67" y2="403.50" stroke="#404040" stroke-width="2.45" stroke-linecap="round"/>
<text x="602.30" y="407.15" font-size="10.9">core set</text>
</svg></body></html>
